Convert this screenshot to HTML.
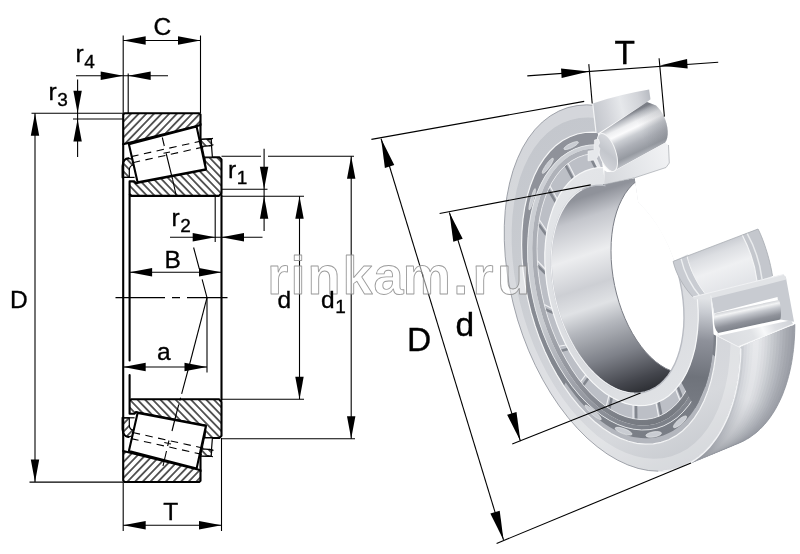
<!DOCTYPE html>
<html lang="en"><head><meta charset="utf-8"><title>Tapered roller bearing</title>
<style>
html,body{margin:0;padding:0;background:#fff;}
body{width:800px;height:554px;overflow:hidden;}
svg{display:block;will-change:transform;font-family:"Liberation Sans",Arial,sans-serif;}
.k{stroke:#000;stroke-width:2.1;stroke-linejoin:round;stroke-linecap:round;}
.m{stroke:#000;stroke-width:1.2;stroke-linejoin:round;}
.t{stroke:#000;stroke-width:1.1;fill:none;}
.dim polygon{fill:#000;}

</style></head>
<body>
<svg width="800" height="554" viewBox="0 0 800 554">
<defs>
<pattern id="h1" width="5.5" height="5.5" patternUnits="userSpaceOnUse" patternTransform="rotate(-46)"><rect width="5.5" height="5.5" fill="#fff"/><line x1="-1" y1="2.75" x2="7" y2="2.75" stroke="#000" stroke-width="1.25"/></pattern>
<pattern id="h2" width="5.5" height="5.5" patternUnits="userSpaceOnUse" patternTransform="rotate(46)"><rect width="5.5" height="5.5" fill="#fff"/><line x1="-1" y1="2.75" x2="7" y2="2.75" stroke="#000" stroke-width="1.25"/></pattern>
<clipPath id="cCup"><path d="M620,287 L588.5,68 L585,-20 L380,-20 L380,580 L900,580 L900,429 Z"/></clipPath>
<clipPath id="cCone"><path d="M620,287 L603.2,170 L588,-20 L380,-20 L380,580 L900,580 L900,152 Z"/></clipPath>
<clipPath id="cBore"><path d="M678.1,273.1 L680.2,282.1 L681.9,291.2 L683.1,300.3 L683.8,309.2 L684.0,318.1 L683.7,326.7 L682.8,335.0 L681.5,343.0 L679.7,350.5 L677.4,357.6 L674.7,364.2 L671.5,370.2 L668.0,375.6 L664.0,380.3 L659.7,384.4 L655.0,387.7 L650.1,390.2 L645.0,392.0 L639.6,393.0 L634.0,393.3 L628.4,392.7 L622.6,391.3 L616.8,389.2 L611.0,386.3 L605.3,382.7 L599.7,378.3 L594.2,373.3 L588.8,367.6 L583.7,361.4 L578.9,354.6 L574.3,347.2 L570.1,339.5 L566.2,331.4 L562.8,322.9 L559.7,314.2 L557.1,305.3 L555.0,296.3 L553.3,287.2 L552.1,278.1 L551.4,269.2 L551.2,260.3 L551.5,251.7 L552.4,243.4 L553.7,235.4 L555.5,227.9 L557.8,220.8 L560.5,214.2 L563.7,208.2 L567.2,202.8 L571.2,198.1 L575.5,194.0 L580.2,190.7 L585.1,188.2 L590.2,186.4 L595.6,185.4 L601.2,185.1 L606.8,185.7 L612.6,187.1 L618.4,189.2 L624.2,192.1 L629.9,195.7 L635.5,200.1 L641.0,205.1 L646.4,210.8 L651.5,217.0 L656.3,223.8 L660.9,231.2 L665.1,238.9 L669.0,247.0 L672.4,255.5 L675.5,264.2 L678.1,273.1Z"/><path d="M603,184 L634.8,178 L640,215 L598,215Z"/></clipPath>
<clipPath id="cBoreTop"><path d="M603,184 L634.8,178 L800,150 L800,600 L400,600 L400,184 Z"/></clipPath>
<linearGradient id="gOuter" gradientUnits="userSpaceOnUse" x1="737" y1="392" x2="792" y2="370">
<stop offset="0" stop-color="#cccfd4"/><stop offset="0.15" stop-color="#e2e4e7"/><stop offset="0.33" stop-color="#ecedef"/><stop offset="0.55" stop-color="#cfd1d6"/><stop offset="0.8" stop-color="#b0b3ba"/><stop offset="1" stop-color="#9b9fa7"/></linearGradient>
<linearGradient id="gOuter2" gradientUnits="userSpaceOnUse" x1="765" y1="335" x2="715" y2="472">
<stop offset="0" stop-color="#9da1a9" stop-opacity="0"/><stop offset="0.45" stop-color="#9da1a9" stop-opacity="0.12"/><stop offset="0.75" stop-color="#8d9199" stop-opacity="0.5"/><stop offset="1" stop-color="#7b7f87" stop-opacity="0.85"/></linearGradient>
<linearGradient id="gFace" gradientUnits="userSpaceOnUse" x1="540" y1="130" x2="690" y2="460">
<stop offset="0" stop-color="#c4c7cd"/><stop offset="0.35" stop-color="#c9ccd1"/><stop offset="0.7" stop-color="#d4d6db"/><stop offset="0.85" stop-color="#d7d9dd"/><stop offset="1" stop-color="#c8cbd0"/></linearGradient>
<linearGradient id="gBore" gradientUnits="userSpaceOnUse" x1="575" y1="200" x2="640" y2="395">
<stop offset="0" stop-color="#8f929a"/><stop offset="0.1" stop-color="#c4c6cc"/><stop offset="0.27" stop-color="#ecedef"/><stop offset="0.42" stop-color="#cdcfd4"/><stop offset="0.52" stop-color="#e0e2e5"/><stop offset="0.62" stop-color="#b4b7bd"/><stop offset="0.78" stop-color="#7d8088"/><stop offset="0.92" stop-color="#45474e"/><stop offset="1" stop-color="#2a2c31"/></linearGradient>
<linearGradient id="gRace" gradientUnits="userSpaceOnUse" x1="520" y1="200" x2="700" y2="440">
<stop offset="0" stop-color="#8f929a"/><stop offset="0.5" stop-color="#83878f"/><stop offset="1" stop-color="#777b83"/></linearGradient>
<linearGradient id="gRim" gradientUnits="userSpaceOnUse" x1="560" y1="180" x2="640" y2="430">
<stop offset="0" stop-color="#cdd0d5"/><stop offset="0.5" stop-color="#c8cbd0"/><stop offset="0.75" stop-color="#a0a3ab"/><stop offset="1" stop-color="#7d8189"/></linearGradient>
<linearGradient id="gRim2" gradientUnits="userSpaceOnUse" x1="560" y1="180" x2="640" y2="430">
<stop offset="0" stop-color="#afb2b9"/><stop offset="0.5" stop-color="#a6a9b0"/><stop offset="0.75" stop-color="#8f929a"/><stop offset="1" stop-color="#74787f"/></linearGradient>
<linearGradient id="gConeFace" gradientUnits="userSpaceOnUse" x1="550" y1="200" x2="700" y2="400">
<stop offset="0" stop-color="#e3e5e8"/><stop offset="0.6" stop-color="#d9dbdf"/><stop offset="1" stop-color="#e2e4e7"/></linearGradient>
<linearGradient id="gCageBand" gradientUnits="userSpaceOnUse" x1="700" y1="297" x2="690" y2="420">
<stop offset="0" stop-color="#e3e5e8"/><stop offset="0.12" stop-color="#c9ccd2"/><stop offset="0.35" stop-color="#8e919a"/><stop offset="0.65" stop-color="#6f737b"/><stop offset="1" stop-color="#7b7f87"/></linearGradient>
<linearGradient id="gCupSecT" gradientUnits="userSpaceOnUse" x1="593" y1="118" x2="652" y2="104">
<stop offset="0" stop-color="#c3c6cc"/><stop offset="0.25" stop-color="#d3d5da"/><stop offset="0.5" stop-color="#e6e8eb"/><stop offset="0.8" stop-color="#d2d4d9"/><stop offset="1" stop-color="#b9bcc3"/></linearGradient>
<linearGradient id="gRolT" gradientUnits="userSpaceOnUse" x1="620" y1="118" x2="639" y2="158">
<stop offset="0" stop-color="#7d8088"/><stop offset="0.08" stop-color="#b4b7bd"/><stop offset="0.22" stop-color="#eeeff1"/><stop offset="0.34" stop-color="#fbfbfc"/><stop offset="0.48" stop-color="#cbced3"/><stop offset="0.66" stop-color="#adb0b7"/><stop offset="0.86" stop-color="#969aa1"/><stop offset="1" stop-color="#b9bcc2"/></linearGradient>
<linearGradient id="gRolTe" gradientUnits="userSpaceOnUse" x1="640" y1="130" x2="668" y2="118">
<stop offset="0" stop-color="#6e7179" stop-opacity="0"/><stop offset="1" stop-color="#6e7179" stop-opacity="0.3"/></linearGradient>
<linearGradient id="gConeSecT" gradientUnits="userSpaceOnUse" x1="604" y1="180" x2="669" y2="155">
<stop offset="0" stop-color="#d6d8dc"/><stop offset="0.5" stop-color="#e4e6e9"/><stop offset="1" stop-color="#f1f2f4"/></linearGradient>
<linearGradient id="gRolF" gradientUnits="userSpaceOnUse" x1="600" y1="140" x2="616" y2="165">
<stop offset="0" stop-color="#d9dbdf"/><stop offset="0.5" stop-color="#c3c6cc"/><stop offset="1" stop-color="#d4d6db"/></linearGradient>
<linearGradient id="gConeOut" gradientUnits="userSpaceOnUse" x1="715" y1="243" x2="733" y2="292">
<stop offset="0" stop-color="#c6c9cf"/><stop offset="0.2" stop-color="#dcdee2"/><stop offset="0.5" stop-color="#eff0f2"/><stop offset="1" stop-color="#e0e2e6"/></linearGradient>
<linearGradient id="gRolR" gradientUnits="userSpaceOnUse" x1="745" y1="305" x2="750" y2="328">
<stop offset="0" stop-color="#b9bcc2"/><stop offset="0.22" stop-color="#f3f4f5"/><stop offset="0.4" stop-color="#c4c7cd"/><stop offset="0.7" stop-color="#8f929a"/><stop offset="0.9" stop-color="#7f838b"/><stop offset="1" stop-color="#a6a9b0"/></linearGradient>
<linearGradient id="gCupSecR" gradientUnits="userSpaceOnUse" x1="722" y1="350" x2="790" y2="315">
<stop offset="0" stop-color="#d9dbdf"/><stop offset="0.45" stop-color="#e1e3e6"/><stop offset="0.6" stop-color="#f7f8f9"/><stop offset="0.75" stop-color="#dfe1e5"/><stop offset="1" stop-color="#d0d3d8"/></linearGradient>
</defs>
<rect width="800" height="554" fill="#fff"/>
<g id="bearing3d">
<path d="M740.8,347.0 L740.7,351.3 L740.5,355.7 L740.3,359.9 L739.9,364.2 L739.5,368.3 L739.1,372.5 L738.5,376.6 L737.9,380.6 L737.2,384.5 L736.4,388.4 L735.6,392.3 L734.7,396.0 L733.7,399.7 L732.6,403.4 L731.5,406.9 L730.3,410.4 L729.0,413.8 L727.7,417.1 L726.3,420.4 L724.8,423.5 L723.3,426.6 L721.7,429.6 L720.0,432.5 L718.3,435.3 L716.5,438.0 L714.7,440.6 L712.7,443.1 L710.8,445.5 L708.8,447.8 L706.7,450.0 L704.6,452.1 L702.4,454.1 L700.2,456.0 L697.9,457.8 L695.6,459.5 L693.2,461.1 L690.8,462.5 L688.3,463.9 L685.8,465.1 L683.2,466.2 L739.2,443.0 L741.7,441.9 L744.2,440.7 L746.6,439.3 L749.0,437.9 L751.3,436.3 L753.6,434.7 L755.9,432.9 L758.1,431.0 L760.2,429.0 L762.3,426.9 L764.3,424.7 L766.3,422.4 L768.2,420.0 L770.1,417.5 L771.9,414.9 L773.6,412.2 L775.3,409.4 L776.9,406.6 L778.4,403.6 L779.9,400.5 L781.4,397.4 L782.7,394.2 L784.0,390.8 L785.2,387.5 L786.4,384.0 L787.4,380.5 L788.4,376.8 L789.4,373.2 L790.2,369.4 L791.0,365.6 L791.7,361.7 L792.4,357.8 L792.9,353.8 L793.4,349.7 L793.9,345.6 L794.2,341.4 L794.5,337.2 L794.7,333.0 L794.8,328.7 L794.8,324.4Z" fill="#9b9ea6"/>
<path d="M740.8,347.0 L740.7,351.3 L740.5,355.7 L740.3,359.9 L739.9,364.2 L739.5,368.3 L739.1,372.5 L738.5,376.6 L737.9,380.6 L737.2,384.5 L736.4,388.4 L735.6,392.3 L734.7,396.0 L733.7,399.7 L732.6,403.4 L731.5,406.9 L730.3,410.4 L729.0,413.8 L727.7,417.1 L726.3,420.4 L724.8,423.5 L723.3,426.6 L721.7,429.6 L720.0,432.5 L718.3,435.3 L716.5,438.0 L714.7,440.6 L712.7,443.1 L710.8,445.5 L708.8,447.8 L706.7,450.0 L704.6,452.1 L702.4,454.1 L700.2,456.0 L697.9,457.8 L695.6,459.5 L693.2,461.1 L690.8,462.5 L688.3,463.9 L685.8,465.1 L683.2,466.2 L736.1,444.3 L738.6,443.2 L741.1,441.9 L743.5,440.6 L745.9,439.2 L748.2,437.6 L750.5,435.9 L752.8,434.2 L755.0,432.3 L757.1,430.3 L759.2,428.2 L761.2,426.0 L763.2,423.7 L765.2,421.3 L767.0,418.8 L768.8,416.2 L770.6,413.5 L772.2,410.7 L773.9,407.8 L775.4,404.8 L776.9,401.7 L778.3,398.6 L779.7,395.4 L781.0,392.0 L782.2,388.6 L783.3,385.2 L784.4,381.6 L785.4,378.0 L786.4,374.3 L787.2,370.5 L788.0,366.7 L788.7,362.8 L789.4,358.9 L789.9,354.9 L790.4,350.8 L790.9,346.7 L791.2,342.5 L791.5,338.3 L791.7,334.1 L791.8,329.8 L791.8,325.4Z" fill="#a0a3ab"/>
<path d="M740.8,347.0 L740.7,351.3 L740.5,355.7 L740.3,359.9 L739.9,364.2 L739.5,368.3 L739.1,372.5 L738.5,376.6 L737.9,380.6 L737.2,384.5 L736.4,388.4 L735.6,392.3 L734.7,396.0 L733.7,399.7 L732.6,403.4 L731.5,406.9 L730.3,410.4 L729.0,413.8 L727.7,417.1 L726.3,420.4 L724.8,423.5 L723.3,426.6 L721.7,429.6 L720.0,432.5 L718.3,435.3 L716.5,438.0 L714.7,440.6 L712.7,443.1 L710.8,445.5 L708.8,447.8 L706.7,450.0 L704.6,452.1 L702.4,454.1 L700.2,456.0 L697.9,457.8 L695.6,459.5 L693.2,461.1 L690.8,462.5 L688.3,463.9 L685.8,465.1 L683.2,466.2 L733.0,445.6 L735.5,444.5 L738.0,443.2 L740.4,441.9 L742.8,440.5 L745.1,438.9 L747.4,437.2 L749.7,435.4 L751.9,433.6 L754.0,431.6 L756.1,429.5 L758.2,427.3 L760.1,425.0 L762.1,422.6 L763.9,420.1 L765.7,417.5 L767.5,414.8 L769.2,412.0 L770.8,409.1 L772.3,406.1 L773.8,403.0 L775.3,399.9 L776.6,396.7 L777.9,393.4 L779.1,390.0 L780.3,386.5 L781.4,382.9 L782.4,379.3 L783.3,375.6 L784.2,371.9 L785.0,368.0 L785.7,364.2 L786.3,360.2 L786.9,356.2 L787.4,352.1 L787.8,348.0 L788.2,343.9 L788.5,339.7 L788.6,335.4 L788.8,331.1 L788.8,326.8Z" fill="#a5a8af"/>
<path d="M740.8,347.0 L740.7,351.3 L740.5,355.7 L740.3,359.9 L739.9,364.2 L739.5,368.3 L739.1,372.5 L738.5,376.6 L737.9,380.6 L737.2,384.5 L736.4,388.4 L735.6,392.3 L734.7,396.0 L733.7,399.7 L732.6,403.4 L731.5,406.9 L730.3,410.4 L729.0,413.8 L727.7,417.1 L726.3,420.4 L724.8,423.5 L723.3,426.6 L721.7,429.6 L720.0,432.5 L718.3,435.3 L716.5,438.0 L714.7,440.6 L712.7,443.1 L710.8,445.5 L708.8,447.8 L706.7,450.0 L704.6,452.1 L702.4,454.1 L700.2,456.0 L697.9,457.8 L695.6,459.5 L693.2,461.1 L690.8,462.5 L688.3,463.9 L685.8,465.1 L683.2,466.2 L729.9,446.9 L732.4,445.7 L734.9,444.5 L737.3,443.2 L739.7,441.7 L742.0,440.2 L744.3,438.5 L746.6,436.7 L748.8,434.9 L750.9,432.9 L753.0,430.8 L755.1,428.6 L757.0,426.3 L759.0,423.9 L760.8,421.4 L762.6,418.8 L764.4,416.1 L766.1,413.3 L767.7,410.4 L769.3,407.4 L770.7,404.4 L772.2,401.2 L773.5,398.0 L774.8,394.7 L776.1,391.3 L777.2,387.8 L778.3,384.3 L779.3,380.6 L780.3,377.0 L781.1,373.2 L781.9,369.4 L782.7,365.5 L783.3,361.6 L783.9,357.5 L784.4,353.5 L784.8,349.4 L785.2,345.2 L785.4,341.0 L785.6,336.8 L785.8,332.5 L785.8,328.1Z" fill="#abaeb5"/>
<path d="M740.8,347.0 L740.7,351.3 L740.5,355.7 L740.3,359.9 L739.9,364.2 L739.5,368.3 L739.1,372.5 L738.5,376.6 L737.9,380.6 L737.2,384.5 L736.4,388.4 L735.6,392.3 L734.7,396.0 L733.7,399.7 L732.6,403.4 L731.5,406.9 L730.3,410.4 L729.0,413.8 L727.7,417.1 L726.3,420.4 L724.8,423.5 L723.3,426.6 L721.7,429.6 L720.0,432.5 L718.3,435.3 L716.5,438.0 L714.7,440.6 L712.7,443.1 L710.8,445.5 L708.8,447.8 L706.7,450.0 L704.6,452.1 L702.4,454.1 L700.2,456.0 L697.9,457.8 L695.6,459.5 L693.2,461.1 L690.8,462.5 L688.3,463.9 L685.8,465.1 L683.2,466.2 L726.8,448.1 L729.3,447.0 L731.8,445.8 L734.2,444.5 L736.6,443.0 L738.9,441.5 L741.2,439.8 L743.5,438.0 L745.7,436.1 L747.8,434.2 L749.9,432.1 L752.0,429.9 L753.9,427.6 L755.9,425.2 L757.7,422.7 L759.5,420.1 L761.3,417.4 L763.0,414.6 L764.6,411.7 L766.2,408.7 L767.7,405.7 L769.1,402.5 L770.5,399.3 L771.8,396.0 L773.0,392.6 L774.2,389.1 L775.2,385.6 L776.3,382.0 L777.2,378.3 L778.1,374.5 L778.9,370.7 L779.6,366.8 L780.3,362.9 L780.8,358.9 L781.4,354.8 L781.8,350.7 L782.1,346.6 L782.4,342.4 L782.6,338.1 L782.8,333.8 L782.8,329.5Z" fill="#b2b5bc"/>
<path d="M740.8,347.0 L740.7,351.3 L740.5,355.7 L740.3,359.9 L739.9,364.2 L739.5,368.3 L739.1,372.5 L738.5,376.6 L737.9,380.6 L737.2,384.5 L736.4,388.4 L735.6,392.3 L734.7,396.0 L733.7,399.7 L732.6,403.4 L731.5,406.9 L730.3,410.4 L729.0,413.8 L727.7,417.1 L726.3,420.4 L724.8,423.5 L723.3,426.6 L721.7,429.6 L720.0,432.5 L718.3,435.3 L716.5,438.0 L714.7,440.6 L712.7,443.1 L710.8,445.5 L708.8,447.8 L706.7,450.0 L704.6,452.1 L702.4,454.1 L700.2,456.0 L697.9,457.8 L695.6,459.5 L693.2,461.1 L690.8,462.5 L688.3,463.9 L685.8,465.1 L683.2,466.2 L723.7,449.4 L726.2,448.3 L728.7,447.1 L731.1,445.8 L733.5,444.3 L735.8,442.8 L738.1,441.1 L740.4,439.3 L742.6,437.4 L744.8,435.4 L746.9,433.3 L748.9,431.1 L750.9,428.8 L752.8,426.4 L754.7,423.9 L756.5,421.3 L758.3,418.6 L759.9,415.8 L761.6,412.9 L763.1,409.9 L764.6,406.9 L766.1,403.7 L767.4,400.5 L768.7,397.2 L770.0,393.8 L771.1,390.3 L772.2,386.8 L773.2,383.1 L774.2,379.4 L775.1,375.7 L775.9,371.9 L776.6,368.0 L777.3,364.0 L777.8,360.0 L778.3,355.9 L778.8,351.8 L779.1,347.6 L779.4,343.4 L779.6,339.2 L779.8,334.9 L779.8,330.5Z" fill="#b9bcc2"/>
<path d="M740.8,347.0 L740.7,351.3 L740.5,355.7 L740.3,359.9 L739.9,364.2 L739.5,368.3 L739.1,372.5 L738.5,376.6 L737.9,380.6 L737.2,384.5 L736.4,388.4 L735.6,392.3 L734.7,396.0 L733.7,399.7 L732.6,403.4 L731.5,406.9 L730.3,410.4 L729.0,413.8 L727.7,417.1 L726.3,420.4 L724.8,423.5 L723.3,426.6 L721.7,429.6 L720.0,432.5 L718.3,435.3 L716.5,438.0 L714.7,440.6 L712.7,443.1 L710.8,445.5 L708.8,447.8 L706.7,450.0 L704.6,452.1 L702.4,454.1 L700.2,456.0 L697.9,457.8 L695.6,459.5 L693.2,461.1 L690.8,462.5 L688.3,463.9 L685.8,465.1 L683.2,466.2 L720.6,450.7 L723.1,449.6 L725.6,448.4 L728.0,447.1 L730.4,445.6 L732.7,444.0 L735.0,442.4 L737.3,440.6 L739.5,438.7 L741.7,436.7 L743.8,434.6 L745.8,432.4 L747.8,430.1 L749.7,427.7 L751.6,425.2 L753.4,422.6 L755.2,419.9 L756.9,417.1 L758.5,414.2 L760.1,411.3 L761.6,408.2 L763.0,405.0 L764.4,401.8 L765.7,398.5 L766.9,395.1 L768.1,391.6 L769.2,388.1 L770.2,384.5 L771.1,380.8 L772.0,377.0 L772.8,373.2 L773.6,369.3 L774.2,365.3 L774.8,361.3 L775.3,357.3 L775.8,353.2 L776.1,349.0 L776.4,344.8 L776.6,340.5 L776.8,336.2 L776.8,331.9Z" fill="#c0c3c8"/>
<path d="M740.8,347.0 L740.7,351.3 L740.5,355.7 L740.3,359.9 L739.9,364.2 L739.5,368.3 L739.1,372.5 L738.5,376.6 L737.9,380.6 L737.2,384.5 L736.4,388.4 L735.6,392.3 L734.7,396.0 L733.7,399.7 L732.6,403.4 L731.5,406.9 L730.3,410.4 L729.0,413.8 L727.7,417.1 L726.3,420.4 L724.8,423.5 L723.3,426.6 L721.7,429.6 L720.0,432.5 L718.3,435.3 L716.5,438.0 L714.7,440.6 L712.7,443.1 L710.8,445.5 L708.8,447.8 L706.7,450.0 L704.6,452.1 L702.4,454.1 L700.2,456.0 L697.9,457.8 L695.6,459.5 L693.2,461.1 L690.8,462.5 L688.3,463.9 L685.8,465.1 L683.2,466.2 L717.5,452.0 L720.0,450.9 L722.5,449.7 L724.9,448.3 L727.3,446.9 L729.6,445.3 L731.9,443.7 L734.2,441.9 L736.4,440.0 L738.6,438.0 L740.7,435.9 L742.7,433.7 L744.7,431.4 L746.6,429.0 L748.5,426.5 L750.3,423.9 L752.1,421.2 L753.8,418.4 L755.4,415.5 L757.0,412.6 L758.5,409.5 L759.9,406.4 L761.3,403.1 L762.6,399.8 L763.8,396.4 L765.0,393.0 L766.1,389.4 L767.1,385.8 L768.1,382.1 L769.0,378.3 L769.8,374.5 L770.5,370.6 L771.2,366.7 L771.8,362.7 L772.3,358.6 L772.7,354.5 L773.1,350.3 L773.4,346.1 L773.6,341.9 L773.7,337.6 L773.8,333.2Z" fill="#c7cacf"/>
<path d="M740.8,347.0 L740.7,351.3 L740.5,355.7 L740.3,359.9 L739.9,364.2 L739.5,368.3 L739.1,372.5 L738.5,376.6 L737.9,380.6 L737.2,384.5 L736.4,388.4 L735.6,392.3 L734.7,396.0 L733.7,399.7 L732.6,403.4 L731.5,406.9 L730.3,410.4 L729.0,413.8 L727.7,417.1 L726.3,420.4 L724.8,423.5 L723.3,426.6 L721.7,429.6 L720.0,432.5 L718.3,435.3 L716.5,438.0 L714.7,440.6 L712.7,443.1 L710.8,445.5 L708.8,447.8 L706.7,450.0 L704.6,452.1 L702.4,454.1 L700.2,456.0 L697.9,457.8 L695.6,459.5 L693.2,461.1 L690.8,462.5 L688.3,463.9 L685.8,465.1 L683.2,466.2 L714.3,453.3 L716.9,452.2 L719.4,451.0 L721.8,449.6 L724.2,448.2 L726.6,446.6 L728.9,444.9 L731.1,443.2 L733.3,441.3 L735.5,439.3 L737.6,437.2 L739.6,435.0 L741.6,432.7 L743.6,430.2 L745.5,427.7 L747.3,425.1 L749.0,422.4 L750.7,419.6 L752.4,416.8 L753.9,413.8 L755.5,410.7 L756.9,407.6 L758.3,404.3 L759.6,401.0 L760.8,397.6 L762.0,394.1 L763.1,390.6 L764.1,386.9 L765.1,383.3 L766.0,379.5 L766.8,375.7 L767.5,371.8 L768.2,367.8 L768.8,363.8 L769.3,359.7 L769.7,355.6 L770.1,351.4 L770.4,347.2 L770.6,342.9 L770.7,338.6 L770.8,334.3Z" fill="#cfd2d6"/>
<path d="M740.8,347.0 L740.7,351.3 L740.5,355.7 L740.3,359.9 L739.9,364.2 L739.5,368.3 L739.1,372.5 L738.5,376.6 L737.9,380.6 L737.2,384.5 L736.4,388.4 L735.6,392.3 L734.7,396.0 L733.7,399.7 L732.6,403.4 L731.5,406.9 L730.3,410.4 L729.0,413.8 L727.7,417.1 L726.3,420.4 L724.8,423.5 L723.3,426.6 L721.7,429.6 L720.0,432.5 L718.3,435.3 L716.5,438.0 L714.7,440.6 L712.7,443.1 L710.8,445.5 L708.8,447.8 L706.7,450.0 L704.6,452.1 L702.4,454.1 L700.2,456.0 L697.9,457.8 L695.6,459.5 L693.2,461.1 L690.8,462.5 L688.3,463.9 L685.8,465.1 L683.2,466.2 L711.2,454.6 L713.8,453.5 L716.2,452.3 L718.7,450.9 L721.1,449.5 L723.4,447.9 L725.8,446.2 L728.0,444.4 L730.2,442.6 L732.4,440.6 L734.5,438.5 L736.5,436.3 L738.5,434.0 L740.5,431.5 L742.4,429.0 L744.2,426.4 L745.9,423.7 L747.7,420.9 L749.3,418.1 L750.9,415.1 L752.4,412.0 L753.8,408.9 L755.2,405.6 L756.5,402.3 L757.8,398.9 L758.9,395.5 L760.0,391.9 L761.1,388.3 L762.0,384.6 L762.9,380.8 L763.7,377.0 L764.5,373.1 L765.1,369.1 L765.7,365.1 L766.3,361.1 L766.7,356.9 L767.1,352.8 L767.4,348.6 L767.6,344.3 L767.7,340.0 L767.8,335.6Z" fill="#d7d9dd"/>
<path d="M740.8,347.0 L740.7,351.3 L740.5,355.7 L740.3,359.9 L739.9,364.2 L739.5,368.3 L739.1,372.5 L738.5,376.6 L737.9,380.6 L737.2,384.5 L736.4,388.4 L735.6,392.3 L734.7,396.0 L733.7,399.7 L732.6,403.4 L731.5,406.9 L730.3,410.4 L729.0,413.8 L727.7,417.1 L726.3,420.4 L724.8,423.5 L723.3,426.6 L721.7,429.6 L720.0,432.5 L718.3,435.3 L716.5,438.0 L714.7,440.6 L712.7,443.1 L710.8,445.5 L708.8,447.8 L706.7,450.0 L704.6,452.1 L702.4,454.1 L700.2,456.0 L697.9,457.8 L695.6,459.5 L693.2,461.1 L690.8,462.5 L688.3,463.9 L685.8,465.1 L683.2,466.2 L708.1,455.9 L710.6,454.8 L713.1,453.6 L715.6,452.2 L718.0,450.8 L720.3,449.2 L722.6,447.5 L724.9,445.7 L727.1,443.9 L729.3,441.9 L731.4,439.8 L733.4,437.6 L735.4,435.3 L737.4,432.8 L739.3,430.3 L741.1,427.7 L742.9,425.0 L744.6,422.3 L746.2,419.4 L747.8,416.4 L749.3,413.3 L750.7,410.2 L752.1,407.0 L753.4,403.6 L754.7,400.2 L755.9,396.8 L757.0,393.2 L758.0,389.6 L759.0,385.9 L759.9,382.2 L760.7,378.3 L761.4,374.4 L762.1,370.5 L762.7,366.5 L763.2,362.4 L763.7,358.3 L764.1,354.1 L764.4,349.9 L764.6,345.6 L764.7,341.3 L764.8,337.0Z" fill="#dedfe3"/>
<path d="M740.8,347.0 L740.7,351.3 L740.5,355.7 L740.3,359.9 L739.9,364.2 L739.5,368.3 L739.1,372.5 L738.5,376.6 L737.9,380.6 L737.2,384.5 L736.4,388.4 L735.6,392.3 L734.7,396.0 L733.7,399.7 L732.6,403.4 L731.5,406.9 L730.3,410.4 L729.0,413.8 L727.7,417.1 L726.3,420.4 L724.8,423.5 L723.3,426.6 L721.7,429.6 L720.0,432.5 L718.3,435.3 L716.5,438.0 L714.7,440.6 L712.7,443.1 L710.8,445.5 L708.8,447.8 L706.7,450.0 L704.6,452.1 L702.4,454.1 L700.2,456.0 L697.9,457.8 L695.6,459.5 L693.2,461.1 L690.8,462.5 L688.3,463.9 L685.8,465.1 L683.2,466.2 L705.0,457.2 L707.5,456.1 L710.0,454.8 L712.5,453.5 L714.9,452.0 L717.3,450.5 L719.6,448.8 L721.8,447.0 L724.0,445.1 L726.2,443.1 L728.3,441.0 L730.4,438.8 L732.4,436.5 L734.3,434.1 L736.2,431.6 L738.0,429.0 L739.8,426.3 L741.5,423.5 L743.2,420.6 L744.7,417.6 L746.3,414.5 L747.7,411.4 L749.1,408.2 L750.4,404.8 L751.7,401.4 L752.8,397.9 L754.0,394.4 L755.0,390.8 L756.0,387.1 L756.8,383.3 L757.7,379.5 L758.4,375.6 L759.1,371.6 L759.7,367.6 L760.2,363.5 L760.7,359.4 L761.1,355.2 L761.4,351.0 L761.6,346.7 L761.7,342.4 L761.8,338.1Z" fill="#e3e5e8"/>
<path d="M740.8,347.0 L740.7,351.3 L740.5,355.7 L740.3,359.9 L739.9,364.2 L739.5,368.3 L739.1,372.5 L738.5,376.6 L737.9,380.6 L737.2,384.5 L736.4,388.4 L735.6,392.3 L734.7,396.0 L733.7,399.7 L732.6,403.4 L731.5,406.9 L730.3,410.4 L729.0,413.8 L727.7,417.1 L726.3,420.4 L724.8,423.5 L723.3,426.6 L721.7,429.6 L720.0,432.5 L718.3,435.3 L716.5,438.0 L714.7,440.6 L712.7,443.1 L710.8,445.5 L708.8,447.8 L706.7,450.0 L704.6,452.1 L702.4,454.1 L700.2,456.0 L697.9,457.8 L695.6,459.5 L693.2,461.1 L690.8,462.5 L688.3,463.9 L685.8,465.1 L683.2,466.2 L701.9,458.5 L704.4,457.4 L706.9,456.1 L709.4,454.8 L711.8,453.3 L714.1,451.8 L716.5,450.1 L718.7,448.3 L720.9,446.4 L723.1,444.4 L725.2,442.3 L727.3,440.1 L729.3,437.8 L731.2,435.4 L733.1,432.9 L735.0,430.3 L736.7,427.6 L738.4,424.8 L740.1,421.9 L741.7,418.9 L743.2,415.9 L744.6,412.7 L746.0,409.5 L747.3,406.2 L748.6,402.8 L749.8,399.3 L750.9,395.7 L751.9,392.1 L752.9,388.4 L753.8,384.6 L754.6,380.8 L755.4,376.9 L756.1,373.0 L756.7,368.9 L757.2,364.9 L757.6,360.7 L758.0,356.6 L758.3,352.3 L758.6,348.1 L758.7,343.8 L758.8,339.4Z" fill="#e9eaed"/>
<path d="M740.8,347.0 L740.7,351.3 L740.5,355.7 L740.3,359.9 L739.9,364.2 L739.5,368.3 L739.1,372.5 L738.5,376.6 L737.9,380.6 L737.2,384.5 L736.4,388.4 L735.6,392.3 L734.7,396.0 L733.7,399.7 L732.6,403.4 L731.5,406.9 L730.3,410.4 L729.0,413.8 L727.7,417.1 L726.3,420.4 L724.8,423.5 L723.3,426.6 L721.7,429.6 L720.0,432.5 L718.3,435.3 L716.5,438.0 L714.7,440.6 L712.7,443.1 L710.8,445.5 L708.8,447.8 L706.7,450.0 L704.6,452.1 L702.4,454.1 L700.2,456.0 L697.9,457.8 L695.6,459.5 L693.2,461.1 L690.8,462.5 L688.3,463.9 L685.8,465.1 L683.2,466.2 L698.8,459.8 L701.3,458.7 L703.8,457.4 L706.3,456.1 L708.7,454.6 L711.0,453.1 L713.4,451.4 L715.6,449.6 L717.8,447.7 L720.0,445.7 L722.1,443.6 L724.2,441.4 L726.2,439.1 L728.1,436.7 L730.0,434.2 L731.9,431.6 L733.6,428.9 L735.3,426.1 L737.0,423.2 L738.6,420.2 L740.1,417.2 L741.6,414.0 L742.9,410.8 L744.3,407.5 L745.5,404.1 L746.7,400.6 L747.8,397.1 L748.9,393.4 L749.8,389.7 L750.7,386.0 L751.6,382.1 L752.3,378.2 L753.0,374.3 L753.6,370.3 L754.2,366.2 L754.6,362.1 L755.0,357.9 L755.3,353.7 L755.6,349.4 L755.7,345.1 L755.8,340.8Z" fill="#e9eaed"/>
<path d="M740.8,347.0 L740.7,351.3 L740.5,355.7 L740.3,359.9 L739.9,364.2 L739.5,368.3 L739.1,372.5 L738.5,376.6 L737.9,380.6 L737.2,384.5 L736.4,388.4 L735.6,392.3 L734.7,396.0 L733.7,399.7 L732.6,403.4 L731.5,406.9 L730.3,410.4 L729.0,413.8 L727.7,417.1 L726.3,420.4 L724.8,423.5 L723.3,426.6 L721.7,429.6 L720.0,432.5 L718.3,435.3 L716.5,438.0 L714.7,440.6 L712.7,443.1 L710.8,445.5 L708.8,447.8 L706.7,450.0 L704.6,452.1 L702.4,454.1 L700.2,456.0 L697.9,457.8 L695.6,459.5 L693.2,461.1 L690.8,462.5 L688.3,463.9 L685.8,465.1 L683.2,466.2 L695.7,461.1 L698.2,459.9 L700.7,458.7 L703.2,457.4 L705.6,455.9 L708.0,454.3 L710.3,452.7 L712.5,450.9 L714.8,449.0 L716.9,447.0 L719.1,444.9 L721.1,442.7 L723.1,440.4 L725.1,437.9 L727.0,435.4 L728.8,432.8 L730.6,430.1 L732.3,427.3 L734.0,424.4 L735.6,421.4 L737.1,418.4 L738.5,415.2 L739.9,412.0 L741.3,408.7 L742.5,405.3 L743.7,401.8 L744.8,398.2 L745.9,394.6 L746.8,390.9 L747.7,387.1 L748.6,383.3 L749.3,379.4 L750.0,375.4 L750.6,371.4 L751.2,367.3 L751.6,363.2 L752.0,359.0 L752.3,354.8 L752.6,350.5 L752.7,346.2 L752.8,341.8Z" fill="#e4e6e9"/>
<path d="M740.8,347.0 L740.7,351.3 L740.5,355.7 L740.3,359.9 L739.9,364.2 L739.5,368.3 L739.1,372.5 L738.5,376.6 L737.9,380.6 L737.2,384.5 L736.4,388.4 L735.6,392.3 L734.7,396.0 L733.7,399.7 L732.6,403.4 L731.5,406.9 L730.3,410.4 L729.0,413.8 L727.7,417.1 L726.3,420.4 L724.8,423.5 L723.3,426.6 L721.7,429.6 L720.0,432.5 L718.3,435.3 L716.5,438.0 L714.7,440.6 L712.7,443.1 L710.8,445.5 L708.8,447.8 L706.7,450.0 L704.6,452.1 L702.4,454.1 L700.2,456.0 L697.9,457.8 L695.6,459.5 L693.2,461.1 L690.8,462.5 L688.3,463.9 L685.8,465.1 L683.2,466.2 L692.6,462.4 L695.1,461.2 L697.6,460.0 L700.1,458.7 L702.5,457.2 L704.8,455.6 L707.2,454.0 L709.4,452.2 L711.7,450.3 L713.8,448.3 L716.0,446.2 L718.0,444.0 L720.0,441.7 L722.0,439.2 L723.9,436.7 L725.7,434.1 L727.5,431.4 L729.2,428.6 L730.9,425.7 L732.5,422.8 L734.0,419.7 L735.5,416.5 L736.9,413.3 L738.2,410.0 L739.4,406.6 L740.6,403.1 L741.7,399.5 L742.8,395.9 L743.8,392.2 L744.7,388.5 L745.5,384.6 L746.3,380.7 L747.0,376.8 L747.6,372.7 L748.1,368.7 L748.6,364.5 L749.0,360.4 L749.3,356.1 L749.5,351.9 L749.7,347.5 L749.8,343.2Z" fill="#dfe1e5"/>
<path d="M740.8,347.0 L740.7,351.3 L740.5,355.7 L740.3,359.9 L739.9,364.2 L739.5,368.3 L739.1,372.5 L738.5,376.6 L737.9,380.6 L737.2,384.5 L736.4,388.4 L735.6,392.3 L734.7,396.0 L733.7,399.7 L732.6,403.4 L731.5,406.9 L730.3,410.4 L729.0,413.8 L727.7,417.1 L726.3,420.4 L724.8,423.5 L723.3,426.6 L721.7,429.6 L720.0,432.5 L718.3,435.3 L716.5,438.0 L714.7,440.6 L712.7,443.1 L710.8,445.5 L708.8,447.8 L706.7,450.0 L704.6,452.1 L702.4,454.1 L700.2,456.0 L697.9,457.8 L695.6,459.5 L693.2,461.1 L690.8,462.5 L688.3,463.9 L685.8,465.1 L683.2,466.2 L689.5,463.6 L692.0,462.5 L694.5,461.3 L697.0,459.9 L699.4,458.5 L701.7,456.9 L704.1,455.2 L706.3,453.5 L708.6,451.6 L710.7,449.6 L712.9,447.5 L714.9,445.3 L716.9,443.0 L718.9,440.5 L720.8,438.0 L722.6,435.4 L724.4,432.7 L726.1,429.9 L727.8,427.1 L729.4,424.1 L730.9,421.0 L732.4,417.9 L733.8,414.6 L735.1,411.3 L736.4,407.9 L737.6,404.4 L738.7,400.9 L739.7,397.3 L740.7,393.6 L741.6,389.8 L742.5,386.0 L743.2,382.1 L743.9,378.1 L744.5,374.1 L745.1,370.0 L745.6,365.9 L746.0,361.7 L746.3,357.5 L746.5,353.2 L746.7,348.9 L746.8,344.5Z" fill="#d8dadf"/>
<path d="M740.8,347.0 L740.7,351.3 L740.5,355.7 L740.3,359.9 L739.9,364.2 L739.5,368.3 L739.1,372.5 L738.5,376.6 L737.9,380.6 L737.2,384.5 L736.4,388.4 L735.6,392.3 L734.7,396.0 L733.7,399.7 L732.6,403.4 L731.5,406.9 L730.3,410.4 L729.0,413.8 L727.7,417.1 L726.3,420.4 L724.8,423.5 L723.3,426.6 L721.7,429.6 L720.0,432.5 L718.3,435.3 L716.5,438.0 L714.7,440.6 L712.7,443.1 L710.8,445.5 L708.8,447.8 L706.7,450.0 L704.6,452.1 L702.4,454.1 L700.2,456.0 L697.9,457.8 L695.6,459.5 L693.2,461.1 L690.8,462.5 L688.3,463.9 L685.8,465.1 L683.2,466.2 L686.4,464.9 L688.9,463.8 L691.4,462.6 L693.9,461.2 L696.3,459.8 L698.6,458.2 L701.0,456.5 L703.2,454.8 L705.5,452.9 L707.6,450.9 L709.8,448.8 L711.8,446.6 L713.8,444.3 L715.8,441.8 L717.7,439.3 L719.5,436.7 L721.3,434.0 L723.0,431.2 L724.7,428.4 L726.3,425.4 L727.8,422.3 L729.3,419.2 L730.7,415.9 L732.0,412.6 L733.3,409.2 L734.5,405.8 L735.6,402.2 L736.7,398.6 L737.7,394.9 L738.6,391.1 L739.4,387.3 L740.2,383.4 L740.9,379.5 L741.5,375.4 L742.1,371.4 L742.5,367.2 L742.9,363.1 L743.3,358.8 L743.5,354.6 L743.7,350.3 L743.8,345.9Z" fill="#cccfd4"/>
<path d="M740.8,347.0 L740.7,351.3 L740.5,355.7 L740.3,359.9 L739.9,364.2 L739.5,368.3 L739.1,372.5 L738.5,376.6 L737.9,380.6 L737.2,384.5 L736.4,388.4 L735.6,392.3 L734.7,396.0 L733.7,399.7 L732.6,403.4 L731.5,406.9 L730.3,410.4 L729.0,413.8 L727.7,417.1 L726.3,420.4 L724.8,423.5 L723.3,426.6 L721.7,429.6 L720.0,432.5 L718.3,435.3 L716.5,438.0 L714.7,440.6 L712.7,443.1 L710.8,445.5 L708.8,447.8 L706.7,450.0 L704.6,452.1 L702.4,454.1 L700.2,456.0 L697.9,457.8 L695.6,459.5 L693.2,461.1 L690.8,462.5 L688.3,463.9 L685.8,465.1 L683.2,466.2 L739.2,443.0 L741.7,441.9 L744.2,440.7 L746.6,439.3 L749.0,437.9 L751.4,436.3 L753.6,434.6 L755.9,432.9 L758.1,431.0 L760.2,429.0 L762.3,426.9 L764.3,424.7 L766.3,422.4 L768.2,420.0 L770.1,417.5 L771.9,414.8 L773.7,412.1 L775.3,409.4 L776.9,406.5 L778.5,403.5 L780.0,400.4 L781.4,397.3 L782.8,394.0 L784.0,390.7 L785.3,387.3 L786.4,383.8 L787.5,380.3 L788.5,376.7 L789.4,373.0 L790.3,369.2 L791.1,365.4 L791.8,361.5 L792.4,357.5 L793.0,353.5 L793.5,349.5 L793.9,345.4 L794.2,341.2 L794.5,337.0 L794.7,332.7 L794.8,328.4 L794.8,324.1Z" fill="url(#gOuter2)"/>
<path d="M683.2,466.2 L739.2,443.0 L741.7,441.9 L744.2,440.7 L746.6,439.3 L749.0,437.9 L751.4,436.3 L753.6,434.6 L755.9,432.9 L758.1,431.0 L760.2,429.0 L762.3,426.9 L764.3,424.7 L766.3,422.4 L768.2,420.0 L770.1,417.5 L771.9,414.8 L773.7,412.1 L775.3,409.4 L776.9,406.5 L778.5,403.5 L780.0,400.4 L781.4,397.3 L782.8,394.0 L784.0,390.7 L785.3,387.3 L786.4,383.8 L787.5,380.3 L788.5,376.7 L789.4,373.0 L790.3,369.2 L791.1,365.4 L791.8,361.5 L792.4,357.5 L793.0,353.5 L793.5,349.5 L793.9,345.4 L794.2,341.2 L794.5,337.0 L794.7,332.7 L794.8,328.4 L794.8,324.1" fill="none" stroke="#8d9199" stroke-width="0.8"/>
<g clip-path="url(#cCup)">
<path fill-rule="evenodd" d="M727.4,256.1 L731.7,272.0 L735.3,287.9 L738.0,303.9 L739.8,319.7 L740.7,335.3 L740.7,350.6 L739.8,365.4 L738.1,379.5 L735.4,393.0 L731.9,405.7 L727.5,417.5 L722.4,428.3 L716.5,438.0 L709.9,446.6 L702.6,454.0 L694.7,460.1 L686.2,464.9 L677.3,468.4 L667.9,470.4 L658.3,471.2 L648.3,470.5 L638.1,468.4 L627.8,464.9 L617.5,460.1 L607.2,454.0 L597.1,446.6 L587.1,438.1 L577.4,428.3 L568.0,417.5 L559.1,405.8 L550.6,393.1 L542.7,379.6 L535.4,365.5 L528.7,350.7 L522.8,335.5 L517.6,319.9 L513.3,304.0 L509.7,288.1 L507.0,272.1 L505.2,256.3 L504.3,240.7 L504.3,225.4 L505.2,210.6 L506.9,196.5 L509.6,183.0 L513.1,170.3 L517.5,158.5 L522.6,147.7 L528.5,138.0 L535.1,129.4 L542.4,122.0 L550.3,115.9 L558.8,111.1 L567.7,107.6 L577.1,105.6 L586.7,104.8 L596.7,105.5 L606.9,107.6 L617.2,111.1 L627.5,115.9 L637.8,122.0 L647.9,129.4 L657.9,137.9 L667.6,147.7 L677.0,158.5 L685.9,170.2 L694.4,182.9 L702.3,196.4 L709.6,210.5 L716.3,225.3 L722.2,240.5 L727.4,256.1Z M707.4,264.2 L710.7,277.8 L713.3,291.4 L715.2,305.0 L716.4,318.4 L716.8,331.7 L716.5,344.6 L715.5,357.0 L713.7,369.0 L711.2,380.3 L708.0,390.9 L704.1,400.8 L699.6,409.8 L694.4,417.8 L688.7,424.9 L682.5,431.0 L675.8,435.9 L668.6,439.7 L661.1,442.4 L653.3,443.9 L645.1,444.2 L636.8,443.4 L628.4,441.3 L619.9,438.1 L611.4,433.7 L602.9,428.3 L594.6,421.7 L586.5,414.2 L578.6,405.7 L571.0,396.3 L563.8,386.1 L557.0,375.1 L550.6,363.5 L544.8,351.3 L539.6,338.6 L535.0,325.5 L531.0,312.2 L527.7,298.6 L525.1,285.0 L523.2,271.4 L522.0,258.0 L521.6,244.7 L521.9,231.8 L522.9,219.4 L524.7,207.4 L527.2,196.1 L530.4,185.5 L534.3,175.6 L538.8,166.6 L544.0,158.6 L549.7,151.5 L555.9,145.4 L562.6,140.5 L569.8,136.7 L577.3,134.0 L585.1,132.5 L593.3,132.2 L601.6,133.0 L610.0,135.1 L618.5,138.3 L627.0,142.7 L635.5,148.1 L643.8,154.7 L651.9,162.2 L659.8,170.7 L667.4,180.1 L674.6,190.3 L681.4,201.3 L687.8,212.9 L693.6,225.1 L698.8,237.8 L703.4,250.9 L707.4,264.2Z" fill="url(#gFace)"/>
<path fill-rule="evenodd" d="M727.4,256.1 L731.7,272.0 L735.3,287.9 L738.0,303.9 L739.8,319.7 L740.7,335.3 L740.7,350.6 L739.8,365.4 L738.1,379.5 L735.4,393.0 L731.9,405.7 L727.5,417.5 L722.4,428.3 L716.5,438.0 L709.9,446.6 L702.6,454.0 L694.7,460.1 L686.2,464.9 L677.3,468.4 L667.9,470.4 L658.3,471.2 L648.3,470.5 L638.1,468.4 L627.8,464.9 L617.5,460.1 L607.2,454.0 L597.1,446.6 L587.1,438.1 L577.4,428.3 L568.0,417.5 L559.1,405.8 L550.6,393.1 L542.7,379.6 L535.4,365.5 L528.7,350.7 L522.8,335.5 L517.6,319.9 L513.3,304.0 L509.7,288.1 L507.0,272.1 L505.2,256.3 L504.3,240.7 L504.3,225.4 L505.2,210.6 L506.9,196.5 L509.6,183.0 L513.1,170.3 L517.5,158.5 L522.6,147.7 L528.5,138.0 L535.1,129.4 L542.4,122.0 L550.3,115.9 L558.8,111.1 L567.7,107.6 L577.1,105.6 L586.7,104.8 L596.7,105.5 L606.9,107.6 L617.2,111.1 L627.5,115.9 L637.8,122.0 L647.9,129.4 L657.9,137.9 L667.6,147.7 L677.0,158.5 L685.9,170.2 L694.4,182.9 L702.3,196.4 L709.6,210.5 L716.3,225.3 L722.2,240.5 L727.4,256.1Z M718.1,258.9 L722.2,273.7 L725.4,288.6 L727.9,303.5 L729.5,318.2 L730.4,332.8 L730.4,346.9 L729.5,360.7 L727.9,373.9 L725.4,386.4 L722.1,398.2 L718.1,409.1 L713.3,419.2 L707.8,428.2 L701.6,436.2 L694.9,443.0 L687.6,448.7 L679.7,453.1 L671.5,456.3 L662.8,458.2 L653.8,458.8 L644.6,458.1 L635.2,456.1 L625.7,452.8 L616.1,448.3 L606.6,442.6 L597.2,435.7 L588.0,427.6 L579.0,418.5 L570.4,408.4 L562.1,397.4 L554.3,385.6 L547.0,373.0 L540.3,359.8 L534.1,346.0 L528.6,331.8 L523.9,317.2 L519.9,302.5 L516.6,287.6 L514.1,272.7 L512.5,258.0 L511.7,243.4 L511.7,229.2 L512.5,215.5 L514.2,202.3 L516.7,189.8 L519.9,178.0 L524.0,167.0 L528.8,157.0 L534.2,148.0 L540.4,140.0 L547.1,133.2 L554.5,127.5 L562.3,123.1 L570.6,119.9 L579.2,118.0 L588.2,117.4 L597.4,118.1 L606.8,120.1 L616.3,123.4 L625.9,127.9 L635.4,133.6 L644.8,140.5 L654.0,148.6 L663.0,157.7 L671.6,167.8 L679.9,178.8 L687.7,190.6 L695.0,203.2 L701.8,216.4 L707.9,230.2 L713.4,244.4 L718.1,258.9Z" fill="#ffffff" fill-opacity="0.28"/>
<path d="M727.4,256.1 L731.7,272.0 L735.3,287.9 L738.0,303.9 L739.8,319.7 L740.7,335.3 L740.7,350.6 L739.8,365.4 L738.1,379.5 L735.4,393.0 L731.9,405.7 L727.5,417.5 L722.4,428.3 L716.5,438.0 L709.9,446.6 L702.6,454.0 L694.7,460.1 L686.2,464.9 L677.3,468.4 L667.9,470.4 L658.3,471.2 L648.3,470.5 L638.1,468.4 L627.8,464.9 L617.5,460.1 L607.2,454.0 L597.1,446.6 L587.1,438.1 L577.4,428.3 L568.0,417.5 L559.1,405.8 L550.6,393.1 L542.7,379.6 L535.4,365.5 L528.7,350.7 L522.8,335.5 L517.6,319.9 L513.3,304.0 L509.7,288.1 L507.0,272.1 L505.2,256.3 L504.3,240.7 L504.3,225.4 L505.2,210.6 L506.9,196.5 L509.6,183.0 L513.1,170.3 L517.5,158.5 L522.6,147.7 L528.5,138.0 L535.1,129.4 L542.4,122.0 L550.3,115.9 L558.8,111.1 L567.7,107.6 L577.1,105.6 L586.7,104.8 L596.7,105.5 L606.9,107.6 L617.2,111.1 L627.5,115.9 L637.8,122.0 L647.9,129.4 L657.9,137.9 L667.6,147.7 L677.0,158.5 L685.9,170.2 L694.4,182.9 L702.3,196.4 L709.6,210.5 L716.3,225.3 L722.2,240.5 L727.4,256.1Z" fill="none" stroke="#8d9199" stroke-width="0.8"/>
<path d="M716.3,225.3 L719.1,232.2 L721.7,239.3 L724.2,246.4 L726.6,253.5 L728.7,260.7 L730.7,268.0 L732.6,275.3 L734.2,282.6 L735.7,289.9 L737.0,297.3 L738.1,304.6 L739.0,311.8 L739.7,319.1 L740.3,326.3 L740.6,333.4 L740.8,340.5 L740.8,347.4 L740.6,354.3 L740.2,361.1 L739.6,367.8 L738.8,374.3 L737.9,380.7 L736.7,386.9 L735.4,393.0 L733.9,398.9 L732.2,404.7 L730.3,410.2 L728.3,415.6 L726.1,420.7 L723.7,425.7 L721.2,430.4 L718.5,434.9 L715.7,439.1 L712.7,443.1 L709.6,446.9 L706.3,450.4 L702.9,453.7 L699.4,456.7 L695.7,459.4 L691.9,461.8 L688.0,464.0 L684.0,465.9 L679.9,467.5 L675.8,468.8 L671.5,469.8 L667.2,470.6 L662.7,471.0 L658.3,471.2" fill="none" stroke="#f2f3f5" stroke-width="1.6"/>
<path fill-rule="evenodd" d="M707.4,264.2 L710.7,277.8 L713.3,291.4 L715.2,305.0 L716.4,318.4 L716.8,331.7 L716.5,344.6 L715.5,357.0 L713.7,369.0 L711.2,380.3 L708.0,390.9 L704.1,400.8 L699.6,409.8 L694.4,417.8 L688.7,424.9 L682.5,431.0 L675.8,435.9 L668.6,439.7 L661.1,442.4 L653.3,443.9 L645.1,444.2 L636.8,443.4 L628.4,441.3 L619.9,438.1 L611.4,433.7 L602.9,428.3 L594.6,421.7 L586.5,414.2 L578.6,405.7 L571.0,396.3 L563.8,386.1 L557.0,375.1 L550.6,363.5 L544.8,351.3 L539.6,338.6 L535.0,325.5 L531.0,312.2 L527.7,298.6 L525.1,285.0 L523.2,271.4 L522.0,258.0 L521.6,244.7 L521.9,231.8 L522.9,219.4 L524.7,207.4 L527.2,196.1 L530.4,185.5 L534.3,175.6 L538.8,166.6 L544.0,158.6 L549.7,151.5 L555.9,145.4 L562.6,140.5 L569.8,136.7 L577.3,134.0 L585.1,132.5 L593.3,132.2 L601.6,133.0 L610.0,135.1 L618.5,138.3 L627.0,142.7 L635.5,148.1 L643.8,154.7 L651.9,162.2 L659.8,170.7 L667.4,180.1 L674.6,190.3 L681.4,201.3 L687.8,212.9 L693.6,225.1 L698.8,237.8 L703.4,250.9 L707.4,264.2Z M702.9,265.1 L705.8,277.5 L708.1,289.9 L709.7,302.3 L710.7,314.6 L710.9,326.7 L710.4,338.5 L709.3,349.9 L707.4,360.9 L704.9,371.3 L701.7,381.0 L697.9,390.0 L693.5,398.2 L688.5,405.6 L683.0,412.1 L677.1,417.7 L670.6,422.2 L663.8,425.8 L656.7,428.3 L649.2,429.7 L641.6,430.0 L633.7,429.2 L625.8,427.4 L617.8,424.5 L609.8,420.5 L601.9,415.6 L594.1,409.6 L586.5,402.7 L579.2,395.0 L572.1,386.4 L565.5,377.1 L559.2,367.1 L553.4,356.5 L548.1,345.4 L543.3,333.8 L539.1,321.9 L535.5,309.7 L532.6,297.3 L530.3,284.9 L528.7,272.5 L527.7,260.2 L527.5,248.1 L528.0,236.3 L529.1,224.9 L531.0,213.9 L533.5,203.5 L536.7,193.8 L540.5,184.8 L544.9,176.6 L549.9,169.2 L555.4,162.7 L561.3,157.1 L567.8,152.6 L574.6,149.0 L581.7,146.5 L589.2,145.1 L596.8,144.8 L604.7,145.6 L612.6,147.4 L620.6,150.3 L628.6,154.3 L636.5,159.2 L644.3,165.2 L651.9,172.1 L659.2,179.8 L666.3,188.4 L672.9,197.7 L679.2,207.7 L685.0,218.3 L690.3,229.4 L695.1,241.0 L699.3,252.9 L702.9,265.1Z" fill="url(#gRace)"/>
<path d="M715.5,357.0 L714.7,362.8 L713.8,368.5 L712.7,374.0 L711.4,379.4 L710.0,384.6 L708.4,389.6 L706.7,394.5 L704.8,399.2 L702.8,403.7 L700.6,408.0 L698.3,412.0 L695.8,415.9 L693.2,419.5 L690.5,423.0 L687.6,426.1 L684.6,429.1 L681.5,431.7 L678.4,434.2 L675.1,436.4 L671.7,438.3 L668.2,439.9 L664.6,441.3 L660.9,442.5 L657.2,443.3 L653.4,443.9 L649.6,444.2 L645.7,444.2 L641.7,444.0 L637.7,443.5 L633.7,442.7 L629.6,441.7 L625.6,440.4 L621.5,438.8 L617.4,436.9 L613.3,434.8 L609.3,432.5 L605.2,429.9 L601.2,427.0 L597.2,423.9 L593.2,420.5 L589.3,417.0 L585.5,413.2 L581.7,409.2 L577.9,404.9 L574.3,400.5 L570.7,395.9 L567.2,391.1 L563.8,386.1 L565.7,382.4 L569.0,387.2 L572.4,391.8 L575.8,396.3 L579.3,400.5 L583.0,404.6 L586.6,408.5 L590.4,412.1 L594.1,415.6 L598.0,418.8 L601.8,421.7 L605.7,424.5 L609.6,427.0 L613.6,429.3 L617.5,431.3 L621.4,433.1 L625.4,434.6 L629.3,435.9 L633.2,436.9 L637.1,437.6 L641.0,438.1 L644.8,438.3 L648.6,438.3 L652.3,438.0 L656.0,437.4 L659.6,436.6 L663.1,435.5 L666.6,434.1 L669.9,432.5 L673.2,430.7 L676.4,428.6 L679.5,426.2 L682.5,423.6 L685.4,420.8 L688.1,417.8 L690.8,414.5 L693.3,411.0 L695.7,407.2 L697.9,403.3 L700.1,399.2 L702.0,394.9 L703.9,390.3 L705.6,385.7 L707.1,380.8 L708.5,375.8 L709.7,370.6 L710.8,365.3 L711.7,359.8 L712.4,354.2Z" fill="#b4b7be"/>
<ellipse cx="699.7" cy="394.6" rx="10.2" ry="2.2" transform="rotate(114.6 699.7 394.6)" fill="#c9ccd2" stroke="#e9ebed" stroke-width="0.6"/>
<ellipse cx="680.0" cy="421.8" rx="8.5" ry="2.5" transform="rotate(138.8 680.0 421.8)" fill="#c9ccd2" stroke="#e9ebed" stroke-width="0.6"/>
<ellipse cx="653.7" cy="434.4" rx="7.9" ry="2.6" transform="rotate(170.5 653.7 434.4)" fill="#c9ccd2" stroke="#e9ebed" stroke-width="0.6"/>
<ellipse cx="623.6" cy="431.2" rx="9.0" ry="2.5" transform="rotate(-159.8 623.6 431.2)" fill="#c9ccd2" stroke="#e9ebed" stroke-width="0.6"/>
<ellipse cx="593.1" cy="412.4" rx="10.8" ry="2.1" transform="rotate(-138.5 593.1 412.4)" fill="#c9ccd2" stroke="#e9ebed" stroke-width="0.6"/>
<ellipse cx="532.2" cy="199.2" rx="11.1" ry="1.5" transform="rotate(-74.5 532.2 199.2)" fill="#c9ccd2" stroke="#e9ebed" stroke-width="0.6"/>
<ellipse cx="547.8" cy="165.8" rx="9.2" ry="2.0" transform="rotate(-54.5 547.8 165.8)" fill="#c9ccd2" stroke="#e9ebed" stroke-width="0.6"/>
<ellipse cx="571.1" cy="145.6" rx="8.0" ry="2.2" transform="rotate(-25.9 571.1 145.6)" fill="#c9ccd2" stroke="#e9ebed" stroke-width="0.6"/>
<path d="M707.4,264.2 L710.7,277.8 L713.3,291.4 L715.2,305.0 L716.4,318.4 L716.8,331.7 L716.5,344.6 L715.5,357.0 L713.7,369.0 L711.2,380.3 L708.0,390.9 L704.1,400.8 L699.6,409.8 L694.4,417.8 L688.7,424.9 L682.5,431.0 L675.8,435.9 L668.6,439.7 L661.1,442.4 L653.3,443.9 L645.1,444.2 L636.8,443.4 L628.4,441.3 L619.9,438.1 L611.4,433.7 L602.9,428.3 L594.6,421.7 L586.5,414.2 L578.6,405.7 L571.0,396.3 L563.8,386.1 L557.0,375.1 L550.6,363.5 L544.8,351.3 L539.6,338.6 L535.0,325.5 L531.0,312.2 L527.7,298.6 L525.1,285.0 L523.2,271.4 L522.0,258.0 L521.6,244.7 L521.9,231.8 L522.9,219.4 L524.7,207.4 L527.2,196.1 L530.4,185.5 L534.3,175.6 L538.8,166.6 L544.0,158.6 L549.7,151.5 L555.9,145.4 L562.6,140.5 L569.8,136.7 L577.3,134.0 L585.1,132.5 L593.3,132.2 L601.6,133.0 L610.0,135.1 L618.5,138.3 L627.0,142.7 L635.5,148.1 L643.8,154.7 L651.9,162.2 L659.8,170.7 L667.4,180.1 L674.6,190.3 L681.4,201.3 L687.8,212.9 L693.6,225.1 L698.8,237.8 L703.4,250.9 L707.4,264.2Z" fill="none" stroke="#f4f5f6" stroke-width="1.2"/>
<path fill-rule="evenodd" d="M702.9,265.1 L705.8,277.5 L708.1,289.9 L709.7,302.3 L710.7,314.6 L710.9,326.7 L710.4,338.5 L709.3,349.9 L707.4,360.9 L704.9,371.3 L701.7,381.0 L697.9,390.0 L693.5,398.2 L688.5,405.6 L683.0,412.1 L677.1,417.7 L670.6,422.2 L663.8,425.8 L656.7,428.3 L649.2,429.7 L641.6,430.0 L633.7,429.2 L625.8,427.4 L617.8,424.5 L609.8,420.5 L601.9,415.6 L594.1,409.6 L586.5,402.7 L579.2,395.0 L572.1,386.4 L565.5,377.1 L559.2,367.1 L553.4,356.5 L548.1,345.4 L543.3,333.8 L539.1,321.9 L535.5,309.7 L532.6,297.3 L530.3,284.9 L528.7,272.5 L527.7,260.2 L527.5,248.1 L528.0,236.3 L529.1,224.9 L531.0,213.9 L533.5,203.5 L536.7,193.8 L540.5,184.8 L544.9,176.6 L549.9,169.2 L555.4,162.7 L561.3,157.1 L567.8,152.6 L574.6,149.0 L581.7,146.5 L589.2,145.1 L596.8,144.8 L604.7,145.6 L612.6,147.4 L620.6,150.3 L628.6,154.3 L636.5,159.2 L644.3,165.2 L651.9,172.1 L659.2,179.8 L666.3,188.4 L672.9,197.7 L679.2,207.7 L685.0,218.3 L690.3,229.4 L695.1,241.0 L699.3,252.9 L702.9,265.1Z M698.1,266.1 L701.0,278.1 L703.2,290.2 L704.8,302.3 L705.7,314.2 L706.0,325.9 L705.6,337.4 L704.6,348.4 L702.9,359.0 L700.5,369.1 L697.6,378.5 L694.1,387.2 L689.9,395.1 L685.3,402.3 L680.1,408.5 L674.5,413.8 L668.4,418.2 L662.0,421.6 L655.3,423.9 L648.3,425.2 L641.0,425.5 L633.6,424.7 L626.1,422.8 L618.5,419.9 L610.9,416.0 L603.4,411.1 L596.0,405.3 L588.8,398.6 L581.8,391.0 L575.1,382.6 L568.8,373.5 L562.8,363.8 L557.2,353.4 L552.1,342.6 L547.6,331.3 L543.5,319.7 L540.1,307.9 L537.2,295.9 L535.0,283.8 L533.4,271.7 L532.5,259.8 L532.2,248.1 L532.6,236.6 L533.6,225.6 L535.3,215.0 L537.7,204.9 L540.6,195.5 L544.1,186.8 L548.3,178.9 L552.9,171.7 L558.1,165.5 L563.7,160.2 L569.8,155.8 L576.2,152.4 L582.9,150.1 L589.9,148.8 L597.2,148.5 L604.6,149.3 L612.1,151.2 L619.7,154.1 L627.3,158.0 L634.8,162.9 L642.2,168.7 L649.4,175.4 L656.4,183.0 L663.1,191.4 L669.4,200.5 L675.4,210.2 L681.0,220.6 L686.1,231.4 L690.6,242.7 L694.7,254.3 L698.1,266.1Z" fill="url(#gRim)"/>
<path fill-rule="evenodd" d="M698.1,266.1 L701.0,278.1 L703.2,290.2 L704.8,302.3 L705.7,314.2 L706.0,325.9 L705.6,337.4 L704.6,348.4 L702.9,359.0 L700.5,369.1 L697.6,378.5 L694.1,387.2 L689.9,395.1 L685.3,402.3 L680.1,408.5 L674.5,413.8 L668.4,418.2 L662.0,421.6 L655.3,423.9 L648.3,425.2 L641.0,425.5 L633.6,424.7 L626.1,422.8 L618.5,419.9 L610.9,416.0 L603.4,411.1 L596.0,405.3 L588.8,398.6 L581.8,391.0 L575.1,382.6 L568.8,373.5 L562.8,363.8 L557.2,353.4 L552.1,342.6 L547.6,331.3 L543.5,319.7 L540.1,307.9 L537.2,295.9 L535.0,283.8 L533.4,271.7 L532.5,259.8 L532.2,248.1 L532.6,236.6 L533.6,225.6 L535.3,215.0 L537.7,204.9 L540.6,195.5 L544.1,186.8 L548.3,178.9 L552.9,171.7 L558.1,165.5 L563.7,160.2 L569.8,155.8 L576.2,152.4 L582.9,150.1 L589.9,148.8 L597.2,148.5 L604.6,149.3 L612.1,151.2 L619.7,154.1 L627.3,158.0 L634.8,162.9 L642.2,168.7 L649.4,175.4 L656.4,183.0 L663.1,191.4 L669.4,200.5 L675.4,210.2 L681.0,220.6 L686.1,231.4 L690.6,242.7 L694.7,254.3 L698.1,266.1Z M693.4,267.1 L696.1,278.6 L698.3,290.2 L699.8,301.8 L700.7,313.2 L701.0,324.5 L700.7,335.4 L699.7,346.0 L698.2,356.1 L696.0,365.8 L693.2,374.8 L689.9,383.1 L686.1,390.7 L681.7,397.5 L676.9,403.5 L671.6,408.5 L665.9,412.7 L659.8,415.9 L653.5,418.1 L646.9,419.3 L640.0,419.5 L633.1,418.6 L626.0,416.8 L618.8,414.0 L611.7,410.2 L604.6,405.5 L597.6,399.8 L590.8,393.4 L584.2,386.1 L577.8,378.0 L571.8,369.2 L566.2,359.8 L560.9,349.9 L556.1,339.5 L551.7,328.6 L547.9,317.5 L544.6,306.1 L541.9,294.6 L539.7,283.0 L538.2,271.4 L537.3,260.0 L537.0,248.7 L537.3,237.8 L538.3,227.2 L539.8,217.1 L542.0,207.4 L544.8,198.4 L548.1,190.1 L551.9,182.5 L556.3,175.7 L561.1,169.7 L566.4,164.7 L572.1,160.5 L578.2,157.3 L584.5,155.1 L591.1,153.9 L598.0,153.7 L604.9,154.6 L612.0,156.4 L619.2,159.2 L626.3,163.0 L633.4,167.7 L640.4,173.4 L647.2,179.8 L653.8,187.1 L660.2,195.2 L666.2,204.0 L671.8,213.4 L677.1,223.3 L681.9,233.7 L686.3,244.6 L690.1,255.7 L693.4,267.1Z" fill="url(#gRim2)"/>
<path d="M702.9,265.1 L705.8,277.5 L708.1,289.9 L709.7,302.3 L710.7,314.6 L710.9,326.7 L710.4,338.5 L709.3,349.9 L707.4,360.9 L704.9,371.3 L701.7,381.0 L697.9,390.0 L693.5,398.2 L688.5,405.6 L683.0,412.1 L677.1,417.7 L670.6,422.2 L663.8,425.8 L656.7,428.3 L649.2,429.7 L641.6,430.0 L633.7,429.2 L625.8,427.4 L617.8,424.5 L609.8,420.5 L601.9,415.6 L594.1,409.6 L586.5,402.7 L579.2,395.0 L572.1,386.4 L565.5,377.1 L559.2,367.1 L553.4,356.5 L548.1,345.4 L543.3,333.8 L539.1,321.9 L535.5,309.7 L532.6,297.3 L530.3,284.9 L528.7,272.5 L527.7,260.2 L527.5,248.1 L528.0,236.3 L529.1,224.9 L531.0,213.9 L533.5,203.5 L536.7,193.8 L540.5,184.8 L544.9,176.6 L549.9,169.2 L555.4,162.7 L561.3,157.1 L567.8,152.6 L574.6,149.0 L581.7,146.5 L589.2,145.1 L596.8,144.8 L604.7,145.6 L612.6,147.4 L620.6,150.3 L628.6,154.3 L636.5,159.2 L644.3,165.2 L651.9,172.1 L659.2,179.8 L666.3,188.4 L672.9,197.7 L679.2,207.7 L685.0,218.3 L690.3,229.4 L695.1,241.0 L699.3,252.9 L702.9,265.1Z" fill="none" stroke="#e8eaec" stroke-width="0.9"/>
<path fill-rule="evenodd" d="M693.4,267.1 L696.1,278.6 L698.3,290.2 L699.8,301.8 L700.7,313.2 L701.0,324.5 L700.7,335.4 L699.7,346.0 L698.2,356.1 L696.0,365.8 L693.2,374.8 L689.9,383.1 L686.1,390.7 L681.7,397.5 L676.9,403.5 L671.6,408.5 L665.9,412.7 L659.8,415.9 L653.5,418.1 L646.9,419.3 L640.0,419.5 L633.1,418.6 L626.0,416.8 L618.8,414.0 L611.7,410.2 L604.6,405.5 L597.6,399.8 L590.8,393.4 L584.2,386.1 L577.8,378.0 L571.8,369.2 L566.2,359.8 L560.9,349.9 L556.1,339.5 L551.7,328.6 L547.9,317.5 L544.6,306.1 L541.9,294.6 L539.7,283.0 L538.2,271.4 L537.3,260.0 L537.0,248.7 L537.3,237.8 L538.3,227.2 L539.8,217.1 L542.0,207.4 L544.8,198.4 L548.1,190.1 L551.9,182.5 L556.3,175.7 L561.1,169.7 L566.4,164.7 L572.1,160.5 L578.2,157.3 L584.5,155.1 L591.1,153.9 L598.0,153.7 L604.9,154.6 L612.0,156.4 L619.2,159.2 L626.3,163.0 L633.4,167.7 L640.4,173.4 L647.2,179.8 L653.8,187.1 L660.2,195.2 L666.2,204.0 L671.8,213.4 L677.1,223.3 L681.9,233.7 L686.3,244.6 L690.1,255.7 L693.4,267.1Z M692.1,268.6 L694.4,278.9 L696.2,289.3 L697.4,299.7 L698.1,310.0 L698.2,320.0 L697.6,329.9 L696.5,339.4 L694.9,348.5 L692.6,357.1 L689.9,365.2 L686.6,372.7 L682.8,379.6 L678.5,385.7 L673.8,391.1 L668.8,395.7 L663.3,399.4 L657.5,402.3 L651.5,404.3 L645.2,405.5 L638.8,405.7 L632.2,405.0 L625.6,403.4 L618.9,400.9 L612.2,397.6 L605.6,393.4 L599.1,388.4 L592.8,382.6 L586.7,376.1 L580.9,368.9 L575.4,361.0 L570.2,352.7 L565.4,343.8 L561.1,334.5 L557.2,324.8 L553.8,314.8 L550.9,304.6 L548.6,294.3 L546.8,283.9 L545.6,273.5 L544.9,263.2 L544.8,253.2 L545.4,243.3 L546.5,233.8 L548.1,224.7 L550.4,216.1 L553.1,208.0 L556.4,200.5 L560.2,193.6 L564.5,187.5 L569.2,182.1 L574.2,177.5 L579.7,173.8 L585.5,170.9 L591.5,168.9 L597.8,167.7 L604.2,167.5 L610.8,168.2 L617.4,169.8 L624.1,172.3 L630.8,175.6 L637.4,179.8 L643.9,184.8 L650.2,190.6 L656.3,197.1 L662.1,204.3 L667.6,212.2 L672.8,220.5 L677.6,229.4 L681.9,238.7 L685.8,248.4 L689.2,258.4 L692.1,268.6Z" fill="#bcbfc6"/>
<path d="M696.4,290.5 L697.5,285.6" stroke="#82868e" stroke-width="2.6" fill="none"/>
<path d="M697.0,295.1 L698.3,290.7" stroke="#f1f2f4" stroke-width="1.1" fill="none"/>
<path d="M697.7,328.5 L700.9,328.8" stroke="#82868e" stroke-width="2.6" fill="none"/>
<path d="M697.4,332.7 L700.8,333.6" stroke="#f1f2f4" stroke-width="1.1" fill="none"/>
<path d="M691.2,361.6 L695.5,367.4" stroke="#82868e" stroke-width="2.6" fill="none"/>
<path d="M689.9,365.1 L694.4,371.4" stroke="#f1f2f4" stroke-width="1.1" fill="none"/>
<path d="M677.7,386.8 L681.8,397.3" stroke="#82868e" stroke-width="2.6" fill="none"/>
<path d="M675.6,389.2 L679.8,400.0" stroke="#f1f2f4" stroke-width="1.1" fill="none"/>
<path d="M658.6,401.8 L661.3,415.2" stroke="#82868e" stroke-width="2.6" fill="none"/>
<path d="M656.0,402.9 L658.6,416.4" stroke="#f1f2f4" stroke-width="1.1" fill="none"/>
<path d="M636.0,405.5 L636.2,419.1" stroke="#82868e" stroke-width="2.6" fill="none"/>
<path d="M633.1,405.1 L633.1,418.6" stroke="#f1f2f4" stroke-width="1.1" fill="none"/>
<path d="M611.8,397.3 L609.3,408.7" stroke="#82868e" stroke-width="2.6" fill="none"/>
<path d="M608.9,395.5 L606.2,406.6" stroke="#f1f2f4" stroke-width="1.1" fill="none"/>
<path d="M588.4,377.9 L583.4,385.1" stroke="#82868e" stroke-width="2.6" fill="none"/>
<path d="M585.7,374.9 L580.6,381.6" stroke="#f1f2f4" stroke-width="1.1" fill="none"/>
<path d="M568.1,348.9 L561.3,350.8" stroke="#82868e" stroke-width="2.6" fill="none"/>
<path d="M566.0,345.0 L559.1,346.2" stroke="#f1f2f4" stroke-width="1.1" fill="none"/>
<path d="M553.2,312.9 L545.5,309.5" stroke="#82868e" stroke-width="2.6" fill="none"/>
<path d="M551.9,308.4 L544.2,304.4" stroke="#f1f2f4" stroke-width="1.1" fill="none"/>
<path d="M545.6,273.5 L537.7,265.7" stroke="#82868e" stroke-width="2.6" fill="none"/>
<path d="M545.2,269.0 L537.3,260.7" stroke="#f1f2f4" stroke-width="1.1" fill="none"/>
<path d="M546.3,235.1 L538.7,224.3" stroke="#82868e" stroke-width="2.6" fill="none"/>
<path d="M546.9,231.0 L539.3,219.8" stroke="#f1f2f4" stroke-width="1.1" fill="none"/>
<path d="M555.7,202.1 L548.3,189.5" stroke="#82868e" stroke-width="2.6" fill="none"/>
<path d="M557.2,198.9 L550.0,186.1" stroke="#f1f2f4" stroke-width="1.1" fill="none"/>
<path d="M572.8,178.7 L565.7,165.3" stroke="#82868e" stroke-width="2.6" fill="none"/>
<path d="M575.1,176.9 L568.1,163.3" stroke="#f1f2f4" stroke-width="1.1" fill="none"/>
<path d="M595.7,168.0 L588.8,154.2" stroke="#82868e" stroke-width="2.6" fill="none"/>
<path d="M598.5,167.7 L591.8,153.9" stroke="#f1f2f4" stroke-width="1.1" fill="none"/>
<path d="M621.7,171.3 L615.2,157.5" stroke="#82868e" stroke-width="2.6" fill="none"/>
<path d="M624.7,172.5 L618.3,158.8" stroke="#f1f2f4" stroke-width="1.1" fill="none"/>
<path d="M647.5,188.1 L642.0,174.8" stroke="#82868e" stroke-width="2.6" fill="none"/>
<path d="M650.3,190.7 L645.0,177.6" stroke="#f1f2f4" stroke-width="1.1" fill="none"/>
<path d="M670.1,216.0 L666.3,204.2" stroke="#82868e" stroke-width="2.6" fill="none"/>
<path d="M672.4,219.8 L668.8,208.2" stroke="#f1f2f4" stroke-width="1.1" fill="none"/>
<path d="M686.9,251.6 L685.5,242.5" stroke="#82868e" stroke-width="2.6" fill="none"/>
<path d="M688.4,256.0 L687.3,247.3" stroke="#f1f2f4" stroke-width="1.1" fill="none"/>
<path d="M693.4,267.1 L696.1,278.6 L698.3,290.2 L699.8,301.8 L700.7,313.2 L701.0,324.5 L700.7,335.4 L699.7,346.0 L698.2,356.1 L696.0,365.8 L693.2,374.8 L689.9,383.1 L686.1,390.7 L681.7,397.5 L676.9,403.5 L671.6,408.5 L665.9,412.7 L659.8,415.9 L653.5,418.1 L646.9,419.3 L640.0,419.5 L633.1,418.6 L626.0,416.8 L618.8,414.0 L611.7,410.2 L604.6,405.5 L597.6,399.8 L590.8,393.4 L584.2,386.1 L577.8,378.0 L571.8,369.2 L566.2,359.8 L560.9,349.9 L556.1,339.5 L551.7,328.6 L547.9,317.5 L544.6,306.1 L541.9,294.6 L539.7,283.0 L538.2,271.4 L537.3,260.0 L537.0,248.7 L537.3,237.8 L538.3,227.2 L539.8,217.1 L542.0,207.4 L544.8,198.4 L548.1,190.1 L551.9,182.5 L556.3,175.7 L561.1,169.7 L566.4,164.7 L572.1,160.5 L578.2,157.3 L584.5,155.1 L591.1,153.9 L598.0,153.7 L604.9,154.6 L612.0,156.4 L619.2,159.2 L626.3,163.0 L633.4,167.7 L640.4,173.4 L647.2,179.8 L653.8,187.1 L660.2,195.2 L666.2,204.0 L671.8,213.4 L677.1,223.3 L681.9,233.7 L686.3,244.6 L690.1,255.7 L693.4,267.1Z" fill="none" stroke="#eceef0" stroke-width="0.8"/>
</g>
<path d="M697.0,295.3 L697.2,297.5 L697.4,299.6 L697.6,301.7 L697.8,303.8 L697.9,305.9 L698.0,308.0 L698.1,310.1 L698.2,312.2 L698.2,314.2 L698.2,316.3 L698.2,318.4 L698.1,320.4 L698.1,322.4 L698.0,324.5 L697.9,326.5 L697.7,328.5 L697.6,330.4 L697.4,332.4 L697.2,334.4 L697.0,336.3 L696.7,338.2 L696.4,340.1 L696.1,342.0 L695.8,343.9 L695.4,345.8 L695.1,347.6 L694.7,349.4 L694.2,351.2 L693.8,353.0 L693.3,354.7 L692.8,356.5 L692.3,358.2 L691.8,359.9 L691.2,361.5 L690.6,363.2 L690.0,364.8 L689.4,366.4 L688.8,367.9 L688.1,369.5 L687.4,371.0 L686.7,372.5 L686.0,373.9 L685.2,375.4 L684.4,376.8 L683.6,378.2 L682.8,379.5 L682.0,380.8 L681.1,382.1 L695.1,408.3 L695.8,407.1 L696.4,406.0 L697.1,404.8 L697.8,403.6 L698.4,402.4 L699.1,401.1 L699.7,399.9 L700.3,398.6 L700.9,397.3 L701.5,396.0 L702.1,394.7 L702.7,393.3 L703.2,392.0 L703.8,390.6 L704.3,389.2 L704.8,387.8 L705.3,386.4 L705.8,385.0 L706.3,383.5 L706.7,382.0 L707.2,380.6 L707.6,379.1 L708.0,377.5 L708.4,376.0 L708.8,374.5 L709.2,372.9 L709.5,371.4 L709.9,369.8 L710.2,368.2 L710.5,366.6 L710.8,365.0 L711.1,363.3 L711.4,361.7 L711.6,360.0 L711.9,358.4 L712.1,356.7 L712.3,355.0 L712.5,353.3 L712.7,351.6 L712.9,349.9 L713.0,348.2 L713.2,346.4 L713.3,344.7 L713.4,342.9 L713.5,341.2 L713.6,339.4 L713.6,337.6 L713.7,335.8 L710.75,295.5 L692.75,297 Z" fill="url(#gCageBand)"/>
<g clip-path="url(#cCone)">
<path fill-rule="evenodd" d="M692.1,268.6 L694.4,278.9 L696.2,289.3 L697.4,299.7 L698.1,310.0 L698.2,320.0 L697.6,329.9 L696.5,339.4 L694.9,348.5 L692.6,357.1 L689.9,365.2 L686.6,372.7 L682.8,379.6 L678.5,385.7 L673.8,391.1 L668.8,395.7 L663.3,399.4 L657.5,402.3 L651.5,404.3 L645.2,405.5 L638.8,405.7 L632.2,405.0 L625.6,403.4 L618.9,400.9 L612.2,397.6 L605.6,393.4 L599.1,388.4 L592.8,382.6 L586.7,376.1 L580.9,368.9 L575.4,361.0 L570.2,352.7 L565.4,343.8 L561.1,334.5 L557.2,324.8 L553.8,314.8 L550.9,304.6 L548.6,294.3 L546.8,283.9 L545.6,273.5 L544.9,263.2 L544.8,253.2 L545.4,243.3 L546.5,233.8 L548.1,224.7 L550.4,216.1 L553.1,208.0 L556.4,200.5 L560.2,193.6 L564.5,187.5 L569.2,182.1 L574.2,177.5 L579.7,173.8 L585.5,170.9 L591.5,168.9 L597.8,167.7 L604.2,167.5 L610.8,168.2 L617.4,169.8 L624.1,172.3 L630.8,175.6 L637.4,179.8 L643.9,184.8 L650.2,190.6 L656.3,197.1 L662.1,204.3 L667.6,212.2 L672.8,220.5 L677.6,229.4 L681.9,238.7 L685.8,248.4 L689.2,258.4 L692.1,268.6Z M678.1,273.1 L680.2,282.1 L681.9,291.2 L683.1,300.3 L683.8,309.2 L684.0,318.1 L683.7,326.7 L682.8,335.0 L681.5,343.0 L679.7,350.5 L677.4,357.6 L674.7,364.2 L671.5,370.2 L668.0,375.6 L664.0,380.3 L659.7,384.4 L655.0,387.7 L650.1,390.2 L645.0,392.0 L639.6,393.0 L634.0,393.3 L628.4,392.7 L622.6,391.3 L616.8,389.2 L611.0,386.3 L605.3,382.7 L599.7,378.3 L594.2,373.3 L588.8,367.6 L583.7,361.4 L578.9,354.6 L574.3,347.2 L570.1,339.5 L566.2,331.4 L562.8,322.9 L559.7,314.2 L557.1,305.3 L555.0,296.3 L553.3,287.2 L552.1,278.1 L551.4,269.2 L551.2,260.3 L551.5,251.7 L552.4,243.4 L553.7,235.4 L555.5,227.9 L557.8,220.8 L560.5,214.2 L563.7,208.2 L567.2,202.8 L571.2,198.1 L575.5,194.0 L580.2,190.7 L585.1,188.2 L590.2,186.4 L595.6,185.4 L601.2,185.1 L606.8,185.7 L612.6,187.1 L618.4,189.2 L624.2,192.1 L629.9,195.7 L635.5,200.1 L641.0,205.1 L646.4,210.8 L651.5,217.0 L656.3,223.8 L660.9,231.2 L665.1,238.9 L669.0,247.0 L672.4,255.5 L675.5,264.2 L678.1,273.1Z" fill="url(#gConeFace)"/>
<path d="M692.1,268.6 L694.4,278.9 L696.2,289.3 L697.4,299.7 L698.1,310.0 L698.2,320.0 L697.6,329.9 L696.5,339.4 L694.9,348.5 L692.6,357.1 L689.9,365.2 L686.6,372.7 L682.8,379.6 L678.5,385.7 L673.8,391.1 L668.8,395.7 L663.3,399.4 L657.5,402.3 L651.5,404.3 L645.2,405.5 L638.8,405.7 L632.2,405.0 L625.6,403.4 L618.9,400.9 L612.2,397.6 L605.6,393.4 L599.1,388.4 L592.8,382.6 L586.7,376.1 L580.9,368.9 L575.4,361.0 L570.2,352.7 L565.4,343.8 L561.1,334.5 L557.2,324.8 L553.8,314.8 L550.9,304.6 L548.6,294.3 L546.8,283.9 L545.6,273.5 L544.9,263.2 L544.8,253.2 L545.4,243.3 L546.5,233.8 L548.1,224.7 L550.4,216.1 L553.1,208.0 L556.4,200.5 L560.2,193.6 L564.5,187.5 L569.2,182.1 L574.2,177.5 L579.7,173.8 L585.5,170.9 L591.5,168.9 L597.8,167.7 L604.2,167.5 L610.8,168.2 L617.4,169.8 L624.1,172.3 L630.8,175.6 L637.4,179.8 L643.9,184.8 L650.2,190.6 L656.3,197.1 L662.1,204.3 L667.6,212.2 L672.8,220.5 L677.6,229.4 L681.9,238.7 L685.8,248.4 L689.2,258.4 L692.1,268.6Z" fill="none" stroke="#f6f7f8" stroke-width="1.2"/>
</g>
<g clip-path="url(#cBoreTop)"><g clip-path="url(#cBore)">
<path d="M678.1,273.1 L680.2,282.1 L681.9,291.2 L683.1,300.3 L683.8,309.2 L684.0,318.1 L683.7,326.7 L682.8,335.0 L681.5,343.0 L679.7,350.5 L677.4,357.6 L674.7,364.2 L671.5,370.2 L668.0,375.6 L664.0,380.3 L659.7,384.4 L655.0,387.7 L650.1,390.2 L645.0,392.0 L639.6,393.0 L634.0,393.3 L628.4,392.7 L622.6,391.3 L616.8,389.2 L611.0,386.3 L605.3,382.7 L599.7,378.3 L594.2,373.3 L588.8,367.6 L583.7,361.4 L578.9,354.6 L574.3,347.2 L570.1,339.5 L566.2,331.4 L562.8,322.9 L559.7,314.2 L557.1,305.3 L555.0,296.3 L553.3,287.2 L552.1,278.1 L551.4,269.2 L551.2,260.3 L551.5,251.7 L552.4,243.4 L553.7,235.4 L555.5,227.9 L557.8,220.8 L560.5,214.2 L563.7,208.2 L567.2,202.8 L571.2,198.1 L575.5,194.0 L580.2,190.7 L585.1,188.2 L590.2,186.4 L595.6,185.4 L601.2,185.1 L606.8,185.7 L612.6,187.1 L618.4,189.2 L624.2,192.1 L629.9,195.7 L635.5,200.1 L641.0,205.1 L646.4,210.8 L651.5,217.0 L656.3,223.8 L660.9,231.2 L665.1,238.9 L669.0,247.0 L672.4,255.5 L675.5,264.2 L678.1,273.1Z" fill="url(#gBore)"/>
<path d="M603,184 L634.8,178 L640,215 L598,215Z" fill="url(#gBore)"/>
<path d="M727.4,262.0 L729.0,270.7 L730.1,279.4 L730.8,288.0 L731.0,296.6 L730.8,305.0 L730.1,313.1 L729.0,320.9 L727.4,328.4 L725.4,335.4 L723.0,342.0 L720.1,348.1 L717.0,353.6 L713.4,358.5 L709.6,362.7 L705.4,366.3 L701.0,369.2 L696.3,371.3 L691.5,372.7 L686.5,373.3 L681.4,373.2 L676.2,372.3 L671.0,370.7 L665.7,368.4 L660.6,365.3 L655.4,361.5 L650.4,357.0 L645.6,352.0 L641.0,346.3 L636.6,340.1 L632.4,333.3 L628.5,326.1 L625.0,318.5 L621.8,310.6 L619.0,302.4 L616.6,294.0 L614.6,285.4 L613.0,276.7 L611.9,268.0 L611.2,259.4 L611.0,250.8 L611.2,242.4 L611.9,234.3 L613.0,226.5 L614.6,219.0 L616.6,212.0 L619.0,205.4 L621.9,199.3 L625.0,193.8 L628.6,188.9 L632.4,184.7 L636.6,181.1 L641.0,178.2 L645.7,176.1 L650.5,174.7 L655.5,174.1 L660.6,174.2 L665.8,175.1 L671.0,176.7 L676.3,179.0 L681.4,182.1 L686.6,185.9 L691.6,190.4 L696.4,195.4 L701.0,201.1 L705.4,207.3 L709.6,214.1 L713.5,221.3 L717.0,228.9 L720.2,236.8 L723.0,245.0 L725.4,253.4 L727.4,262.0Z" fill="#fff" stroke="#7a7d85" stroke-width="1"/>
</g></g>
<g clip-path="url(#cCone)"><path d="M678.1,273.1 L680.2,282.1 L681.9,291.2 L683.1,300.3 L683.8,309.2 L684.0,318.1 L683.7,326.7 L682.8,335.0 L681.5,343.0 L679.7,350.5 L677.4,357.6 L674.7,364.2 L671.5,370.2 L668.0,375.6 L664.0,380.3 L659.7,384.4 L655.0,387.7 L650.1,390.2 L645.0,392.0 L639.6,393.0 L634.0,393.3 L628.4,392.7 L622.6,391.3 L616.8,389.2 L611.0,386.3 L605.3,382.7 L599.7,378.3 L594.2,373.3 L588.8,367.6 L583.7,361.4 L578.9,354.6 L574.3,347.2 L570.1,339.5 L566.2,331.4 L562.8,322.9 L559.7,314.2 L557.1,305.3 L555.0,296.3 L553.3,287.2 L552.1,278.1 L551.4,269.2 L551.2,260.3 L551.5,251.7 L552.4,243.4 L553.7,235.4 L555.5,227.9 L557.8,220.8 L560.5,214.2 L563.7,208.2 L567.2,202.8 L571.2,198.1 L575.5,194.0 L580.2,190.7 L585.1,188.2 L590.2,186.4 L595.6,185.4 L601.2,185.1 L606.8,185.7 L612.6,187.1 L618.4,189.2 L624.2,192.1 L629.9,195.7 L635.5,200.1 L641.0,205.1 L646.4,210.8 L651.5,217.0 L656.3,223.8 L660.9,231.2 L665.1,238.9 L669.0,247.0 L672.4,255.5 L675.5,264.2 L678.1,273.1Z" fill="none" stroke="#b9bcc3" stroke-width="1.4" clip-path="url(#cBoreTop)"/></g>
<path d="M634.0,393.3 L630.2,393.0 L626.4,392.3 L622.5,391.3 L618.6,389.9 L614.7,388.2 L610.8,386.1 L606.9,383.7 L603.0,381.0 L599.3,378.0 L595.5,374.6 L591.9,371.0 L588.3,367.0 L584.9,362.8 L581.5,358.4 L578.3,353.7 L575.2,348.7 L572.3,343.6 L569.5,338.3 L566.9,332.8 L564.5,327.2 L562.2,321.4 L560.2,315.5 L558.3,309.5 L556.6,303.5 L555.2,297.4 L554.0,291.3 L553.0,285.2 L552.2,279.0 L551.6,273.0 L551.3,266.9 L551.2,261.0 L551.3,255.1 L551.7,249.4 L552.3,243.8 L553.1,238.4 L554.2,233.1 L555.4,228.1 L556.9,223.2 L558.6,218.6 L560.5,214.2 L562.6,210.1 L564.9,206.2 L567.3,202.7 L570.0,199.4 L572.8,196.5 L575.7,193.9 L578.8,191.6 L582.1,189.6" fill="none" stroke="#f0f1f3" stroke-width="1.1"/>
<path d="M592.7,103.4 Q620,94.5 649.1,89.6 L650.5,99.3 L647,102 L598,133.5 L596.1,133Z" fill="url(#gCupSecT)"/>
<path d="M592.7,103.4 L596.1,133" stroke="#f3f4f5" stroke-width="1.2" fill="none"/>
<path d="M599.6,133.8 L647,102 L656,105.4 C662,111 667,120 667.7,131 C668,136 667,140 665,142.7 L612.6,171.6 Z" fill="url(#gRolT)"/>
<path d="M599.6,133.8 L647,102 L656,105.4 C662,111 667,120 667.7,131 C668,136 667,140 665,142.7 L612.6,171.6 Z" fill="url(#gRolTe)"/>
<path d="M604.4,170.2 L607.0,172.0 L612.6,172.0 L665.0,142.7 L668.5,145.0 L669.3,163.0 L666.0,167.5 L634.6,177.8 L604.4,184.6Z" fill="url(#gConeSecT)"/>
<path d="M604.4,184.6 L634.6,177.8 L666,167.5 L669.3,163 L668.5,145" stroke="#a4a7ae" stroke-width="0.7" fill="none"/>
<ellipse cx="607.3" cy="152.4" rx="19.9" ry="8.3" transform="rotate(70.7 607.3 152.4)" fill="url(#gRolF)" stroke="#f4f5f6" stroke-width="1"/>
<path d="M588,151.2 L594,150.2 L594.5,140 L598.5,139 L599.6,143 L598,146 L599.8,148.5 L598.7,155 L596.5,158.5 L598.5,163 L600.5,167.5 L597,166.5 L594,160 L588,160.8Z" fill="#e6e8eb" stroke="#f6f7f8" stroke-width="0.6"/>
<path d="M673.1,261.4 L758,229 C762,236 770,258 772.5,276 L740,300 L694,298 C684,288 676,274 673.1,261.4 Z" fill="url(#gConeOut)"/>
<path d="M673.1,261.4 L687,256 C690,270 698,286 708,297 L694,298 C684,288 676,274 673.1,261.4Z" fill="#c9ccd2"/>
<path d="M681,258.5 C684,272 692,287 701,297.5" stroke="#eef0f2" stroke-width="1.3" fill="none"/>
<path d="M687,256 C690,270 698,286 708,297" stroke="#f4f5f6" stroke-width="1" fill="none"/>
<path d="M742.2,235 L758,229 C762,236 770,258 772.5,276 L757,281 C755,264 748,246 742.2,235Z" fill="#c4c7cd"/>
<path d="M742.2,235 C748,246 755,264 757,281" stroke="#f4f5f6" stroke-width="1.2" fill="none"/>
<path d="M747,233.2 C753,244 760,262 762,279" stroke="#e9ebed" stroke-width="1.5" fill="none"/>
<path d="M673.1,261.4 L758,229 C762,236 770,258 772.5,276" stroke="#a4a7ae" stroke-width="0.7" fill="none"/>
<path d="M673.1,261.4 C676,274 684,288 694,298" stroke="#a4a7ae" stroke-width="0.7" fill="none"/>
<path d="M692.8,297.0 L783.5,274.5 L785.8,276.8 L794.0,321.8 L780.5,319.5 L777.5,297.0 L713.8,313.5 L718.5,336.5 L710.8,295.5Z" fill="#c8cbd1"/>
<path d="M692.75,297 L783.5,274.5 L785.75,276.75 L786.3,279.6 L711.2,298.3 L694,299.6Z" fill="#e1e3e6"/>
<path d="M692.75,297 L783.5,274.5 L785.75,276.75" stroke="#f1f2f4" stroke-width="1" fill="none"/>
<path d="M710.75,295.5 L713.75,313.5 L718.5,336.5" stroke="#eef0f2" stroke-width="1" fill="none"/>
<path d="M715.25,313.5 L779,300 C781,305 781.5,313 780.5,319.5 L718.25,333 C713.5,328 713,319 715.25,313.5Z" fill="url(#gRolR)"/>
<path d="M717.5,336.0 L738.5,346.8 L793.2,324.3 L791.0,320.2Z" fill="url(#gCupSecR)"/>
<path d="M738.5,346.8 L793.2,324.3" stroke="#f6f7f8" stroke-width="1.2" fill="none"/>
<path d="M717.5,336 L738.5,346.8" stroke="#f0f1f3" stroke-width="1" fill="none"/>
</g>
<g id="section">
<path d="M123.20,114.60 L124.60,113.20 L199.20,113.20 L200.50,114.50 L200.50,125.00 L197.00,125.90 L123.20,144.30 Z" fill="url(#h1)" class="k"/>
<path d="M129.60,181.40 L134.40,181.40 L136.00,183.20 L138.20,182.70 L205.60,169.60 L204.40,157.20 L219.30,157.20 L221.50,159.40 L221.50,193.20 L219.00,195.90 L131.20,195.90 L129.60,194.30 Z" fill="url(#h2)" class="k"/>
<path d="M200.60,139.40 L211.00,138.90 L212.40,157.20 L204.30,157.20 Z" fill="#fff" class="m"/>
<path d="M200.60,139.40 L211.00,138.90 L211.90,145.60 L201.90,146.40 Z" fill="url(#h2)" class="m"/>
<path d="M128.90,144.30 L196.60,126.60 L205.90,169.30 L137.60,182.30 Z" fill="#fff" class="k"/>
<path d="M123.20,480.60 L124.60,482.00 L199.20,482.00 L200.50,480.70 L200.50,470.20 L197.00,469.30 L123.20,450.90 Z" fill="url(#h1)" class="k"/>
<path d="M129.60,413.80 L134.40,413.80 L136.00,412.00 L138.20,412.50 L205.60,425.60 L204.40,438.00 L219.30,438.00 L221.50,435.80 L221.50,402.00 L219.00,399.30 L131.20,399.30 L129.60,400.90 Z" fill="url(#h2)" class="k"/>
<path d="M200.60,455.80 L211.00,456.30 L212.40,438.00 L204.30,438.00 Z" fill="#fff" class="m"/>
<path d="M200.60,455.80 L211.00,456.30 L211.90,449.60 L201.90,448.80 Z" fill="url(#h2)" class="m"/>
<path d="M128.90,450.90 L196.60,468.60 L205.90,425.90 L137.60,412.90 Z" fill="#fff" class="k"/>
<path d="M122.6,177.4 L122.6,166 C122.8,161 125.5,158.3 128.5,158.3 L131.8,159.2 L133.2,165 C130.5,165.5 129.3,167.5 129.3,170.5 L129.3,177.4 Z" fill="url(#h2)" class="m"/>
<path d="M122.6,177.4 L122.6,166 C122.8,161 125.5,158.3 128.5,158.3" fill="none" class="k"/>
<g transform="translate(0,595.2) scale(1,-1)"><path d="M122.6,177.4 L122.6,166 C122.8,161 125.5,158.3 128.5,158.3 L131.8,159.2 L133.2,165 C130.5,165.5 129.3,167.5 129.3,170.5 L129.3,177.4 Z" fill="url(#h2)" class="m"/><path d="M122.6,177.4 L122.6,166 C122.8,161 125.5,158.3 128.5,158.3" fill="none" class="k"/></g>
<line class="t" stroke-dasharray="7.5 5.5" x1="131.2" y1="156.6" x2="213" y2="138.4"/>
<line class="t" stroke-dasharray="7.5 5.5" x1="132.7" y1="162.7" x2="213.5" y2="144.8"/>
<line class="t" stroke-dasharray="7.5 5.5" x1="131.2" y1="438.6" x2="213" y2="456.80000000000007"/>
<line class="t" stroke-dasharray="7.5 5.5" x1="132.7" y1="432.50000000000006" x2="213.5" y2="450.40000000000003"/>
<path class="t" d="M162.3,137.5 L164.3,146 M166.2,153.5 L172.6,179.5 M163.5,153.3 L170,152"/>
<path class="t" d="M172.6,179.5 L176.3,196"/>
<path class="t" stroke-dasharray="22 4 3 4" d="M193.6,247.5 L207,297.6"/>
<path class="t" d="M207,297.6 L190.2,362"/>
<path class="t" stroke-dasharray="3 4 26 4" d="M190.2,362 L176.5,413"/>
<path class="t" d="M176.5,413 L172,431"/>
<path class="t" d="M169,440.5 L167.6,446 M164.3,442.5 L171,444 M166.5,451 L163,466"/>
<line class="k" x1="200.5" y1="124" x2="200.5" y2="139.4"/>
<line class="k" x1="200.5" y1="471.20000000000005" x2="200.5" y2="455.80000000000007"/>
<line class="m" x1="122.6" y1="177.4" x2="134.6" y2="177.4"/>
<line class="m" x1="122.6" y1="417.80000000000007" x2="134.6" y2="417.80000000000007"/>
<line class="k" x1="123.2" y1="144" x2="123.2" y2="451"/>
<line class="k" x1="129.6" y1="195" x2="129.6" y2="360.5"/>
<line class="k" x1="129.6" y1="375" x2="129.6" y2="400"/>
<line class="k" x1="221.5" y1="195" x2="221.5" y2="400"/>
<path class="t" d="M115.5,297.6 H165 M172,297.6 H180 M187,297.6 H227.5"/>
</g>
<g class="dim">
<line class="t" x1="123.2" y1="35.5" x2="123.2" y2="113"/>
<line class="t" x1="200.5" y1="35.5" x2="200.5" y2="113"/>
<line class="t" x1="123.2" y1="40.5" x2="200.5" y2="40.5"/>
<polygon points="123.20,40.50 145.70,36.30 145.70,44.70"/>
<polygon points="200.50,40.50 178.00,44.70 178.00,36.30"/>
<line class="t" x1="76" y1="75.7" x2="168" y2="75.7"/>
<line class="t" x1="128.2" y1="73.5" x2="128.2" y2="113"/>
<polygon points="123.20,75.70 100.70,79.90 100.70,71.50"/>
<polygon points="128.20,75.70 150.70,71.50 150.70,79.90"/>
<line class="t" x1="77.6" y1="79.5" x2="77.6" y2="157"/>
<line class="t" x1="31.5" y1="113.2" x2="123" y2="113.2"/>
<line class="t" x1="73" y1="119" x2="123" y2="119"/>
<polygon points="77.60,113.20 73.40,90.70 81.80,90.70"/>
<polygon points="77.60,119.00 81.80,141.50 73.40,141.50"/>
<line class="t" x1="35" y1="113.2" x2="35" y2="482.1"/>
<line class="t" x1="29.5" y1="482.1" x2="123" y2="482.1"/>
<polygon points="35.00,113.20 39.20,135.70 30.80,135.70"/>
<polygon points="35.00,482.10 30.80,459.60 39.20,459.60"/>
<line class="t" x1="123.2" y1="482" x2="123.2" y2="531"/>
<line class="t" x1="221.5" y1="438" x2="221.5" y2="531"/>
<line class="t" x1="123.2" y1="525.3" x2="221.5" y2="525.3"/>
<polygon points="123.20,525.30 145.70,521.10 145.70,529.50"/>
<polygon points="221.50,525.30 199.00,529.50 199.00,521.10"/>
<line class="t" x1="129.6" y1="272.2" x2="221.5" y2="272.2"/>
<polygon points="129.60,272.20 152.10,268.00 152.10,276.40"/>
<polygon points="221.50,272.20 199.00,276.40 199.00,268.00"/>
<line class="t" x1="170" y1="237.2" x2="262.5" y2="237.2"/>
<line class="t" x1="215.2" y1="196" x2="215.2" y2="242"/>
<polygon points="215.20,237.20 192.70,241.40 192.70,233.00"/>
<polygon points="221.50,237.20 244.00,233.00 244.00,241.40"/>
<line class="t" x1="123.2" y1="367" x2="207" y2="367"/>
<line class="t" x1="207" y1="297.6" x2="207" y2="372.5"/>
<polygon points="123.20,367.00 145.70,362.80 145.70,371.20"/>
<polygon points="207.00,367.00 184.50,371.20 184.50,362.80"/>
<line class="t" x1="264.1" y1="148.7" x2="264.1" y2="231"/>
<line class="t" x1="221.5" y1="156.3" x2="261" y2="156.3"/>
<line class="t" x1="268" y1="156.3" x2="354" y2="156.3"/>
<line class="t" x1="221.5" y1="189.3" x2="267.5" y2="189.3"/>
<line class="t" x1="221.5" y1="196.3" x2="304" y2="196.3"/>
<polygon points="264.10,189.30 259.90,166.80 268.30,166.80"/>
<polygon points="264.10,196.30 268.30,218.80 259.90,218.80"/>
<line class="t" x1="299.5" y1="196.3" x2="299.5" y2="399.2"/>
<line class="t" x1="221.5" y1="399.2" x2="304" y2="399.2"/>
<polygon points="299.50,196.30 303.70,218.80 295.30,218.80"/>
<polygon points="299.50,399.20 295.30,376.70 303.70,376.70"/>
<line class="t" x1="351.2" y1="156.3" x2="351.2" y2="438.8"/>
<line class="t" x1="221.5" y1="438.8" x2="355" y2="438.8"/>
<polygon points="351.20,156.30 355.40,178.80 347.00,178.80"/>
<polygon points="351.20,438.80 347.00,416.30 355.40,416.30"/>
<line class="t" x1="527.3" y1="75.9" x2="718.2" y2="62.3"/>
<line class="t" x1="588.8" y1="64.1" x2="592.2" y2="103.5"/>
<line class="t" x1="659.1" y1="58.3" x2="664.4" y2="116.6"/>
<polygon points="588.80,71.50 561.67,78.05 561.05,68.57"/>
<polygon points="659.90,65.40 687.07,59.05 687.63,68.53"/>
<line class="t" x1="371.4" y1="139.4" x2="584.2" y2="101.4"/>
<line class="t" x1="496.6" y1="543.5" x2="691" y2="462.9"/>
<line class="t" x1="381.1" y1="138.75" x2="503.5" y2="539.9"/>
<polygon points="381.10,138.75 394.25,165.06 384.88,167.92"/>
<polygon points="503.50,539.90 490.35,513.59 499.72,510.73"/>
<line class="t" x1="439.6" y1="213.5" x2="590.75" y2="184.9"/>
<line class="t" x1="512.25" y1="444" x2="640.6" y2="393"/>
<line class="t" x1="449.4" y1="212.5" x2="520.4" y2="441.1"/>
<polygon points="449.40,212.50 462.68,238.74 453.32,241.65"/>
<polygon points="520.40,441.10 507.12,414.86 516.48,411.95"/>
</g>
<g id="watermark" font-size="54" font-weight="bold" style="font-family:'Liberation Sans',sans-serif">
<text x="267.3 290.6 307.6 342.4 373.4 402.8 453.2 472.6 497.3" y="294.3" fill="#fff" fill-opacity="0.5" stroke="#8a8a8a" stroke-opacity="0.85" stroke-width="0.9" stroke-linejoin="round">rinkam.ru</text>
</g>
<g id="labels" stroke="#000" stroke-width="0.35">
<text x="162.3" y="35" font-size="24.5" text-anchor="middle">C</text>
<text x="75.5" y="62" font-size="24.5">r<tspan font-size="19" dx="0.5" dy="5.5">4</tspan></text>
<text x="48.5" y="100" font-size="24.5">r<tspan font-size="19" dx="0.5" dy="5.5">3</tspan></text>
<text x="10" y="307.6" font-size="24.5" text-anchor="start">D</text>
<text x="170.8" y="519.8" font-size="24.5" text-anchor="middle">T</text>
<text x="164.5" y="268.3" font-size="24.5" text-anchor="start">B</text>
<text x="171.5" y="226.3" font-size="24.5">r<tspan font-size="19" dx="0.5" dy="5.5">2</tspan></text>
<text x="157" y="360" font-size="24.5" text-anchor="start">a</text>
<text x="228" y="178" font-size="24.5">r<tspan font-size="19" dx="0.5" dy="5.5">1</tspan></text>
<text x="277.5" y="307.6" font-size="24.5" text-anchor="start">d</text>
<text x="321" y="307.6" font-size="24.5">d<tspan font-size="19" dx="0.5" dy="5.5">1</tspan></text>
<text x="624.8" y="63.6" font-size="33.5" text-anchor="middle">T</text>
<text x="407" y="351" font-size="33.5" text-anchor="start">D</text>
<text x="455.5" y="336.3" font-size="33.5" text-anchor="start">d</text>
</g>
</svg>
</body></html>
